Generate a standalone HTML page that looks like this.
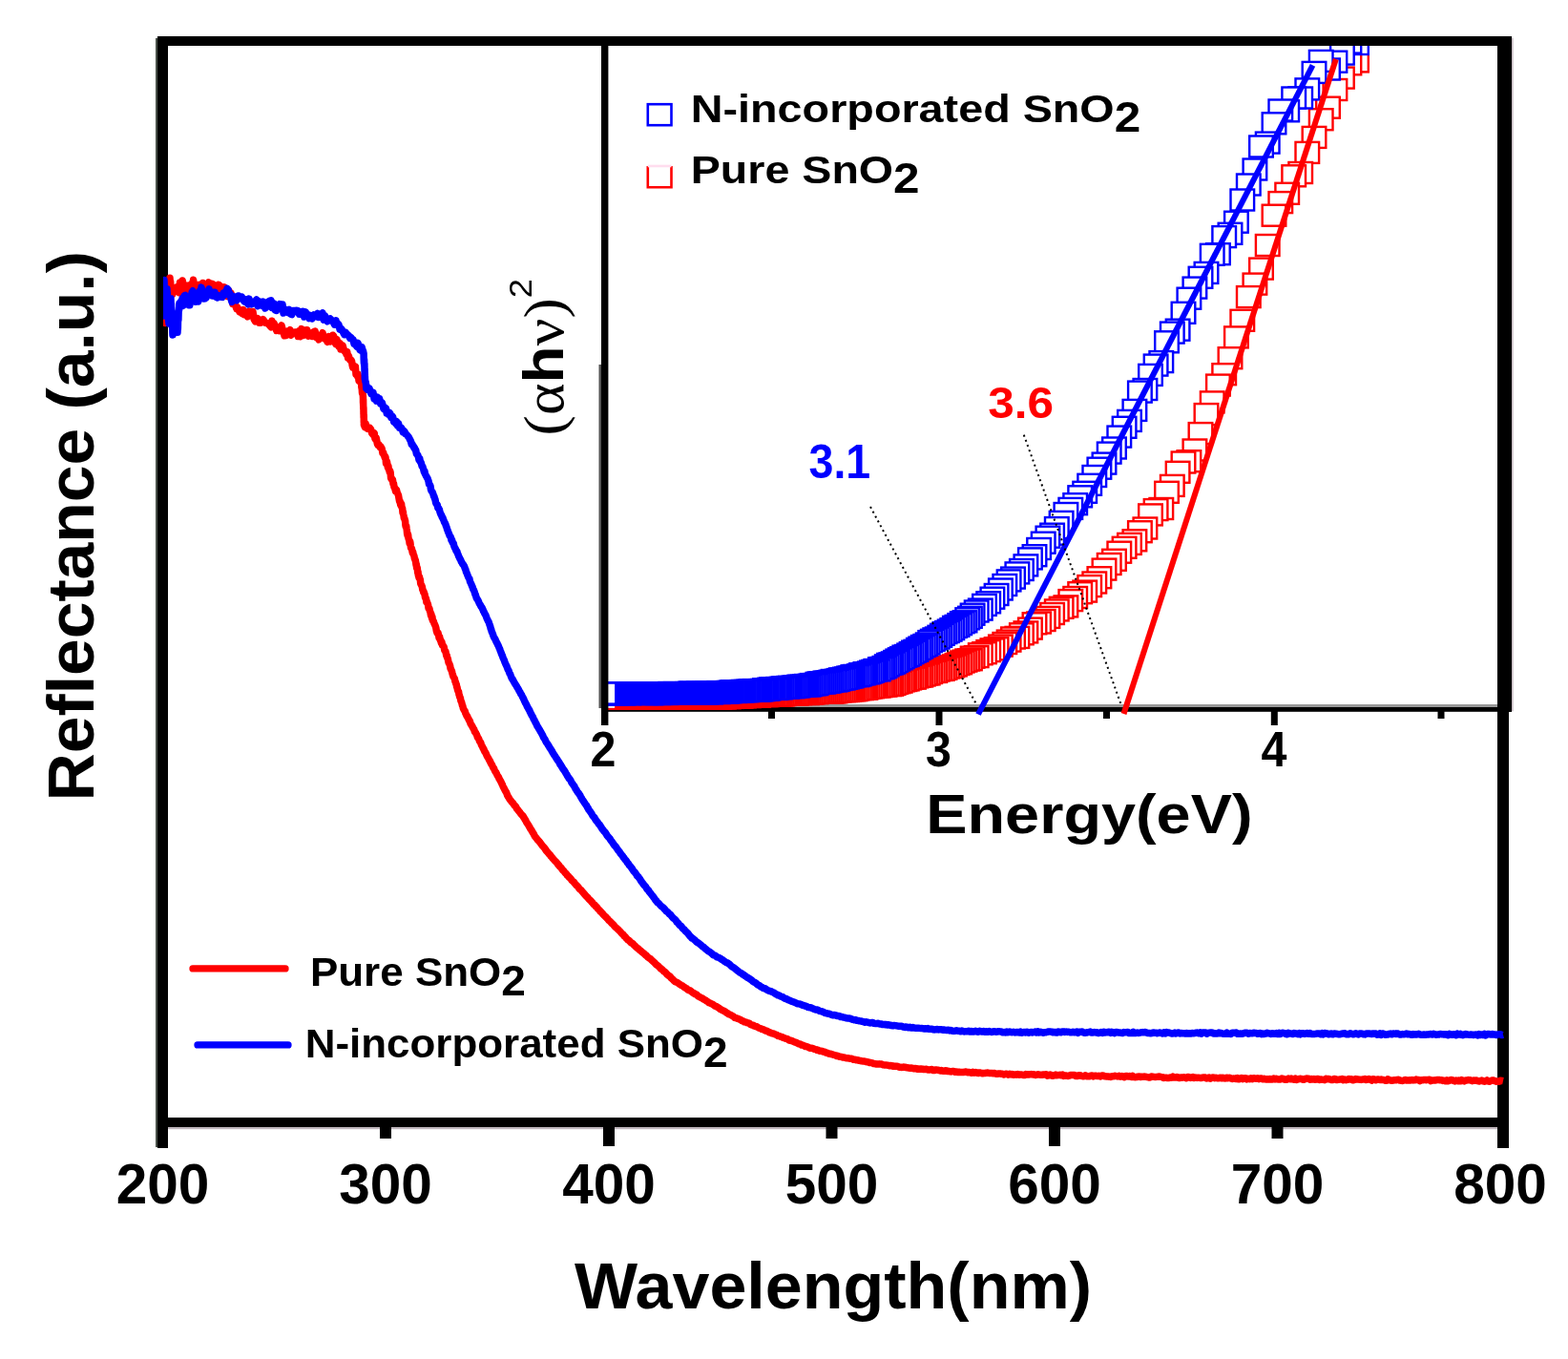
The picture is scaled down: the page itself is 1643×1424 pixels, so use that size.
<!DOCTYPE html>
<html><head><meta charset="utf-8"><title>Reflectance</title>
<style>html,body{margin:0;padding:0;background:#fff;}svg{display:block;}</style>
</head><body>
<svg width="1643" height="1424" viewBox="0 0 1643 1424">
<defs><clipPath id="ic"><rect x="637" y="48" width="932" height="696"/></clipPath><clipPath id="mc"><rect x="171" y="48" width="1405" height="1123"/></clipPath></defs>
<rect width="1643" height="1424" fill="#fff"/>
<rect x="637" y="48" width="935" height="692" fill="#fff"/>
<rect x="630" y="741" width="954" height="4.8" fill="#000"/>
<rect x="637" y="738" width="932" height="3" fill="#999"/>
<g fill="#fff" stroke="#f00" stroke-width="2.4" clip-path="url(#ic)"><rect x="1409.2" y="53.4" width="24.6" height="22"/><rect x="1401.6" y="56.3" width="24.6" height="22"/><rect x="1394.1" y="70.6" width="24.6" height="22"/><rect x="1386.6" y="83" width="24.6" height="22"/><rect x="1379.2" y="101.7" width="24.6" height="22"/><rect x="1371.9" y="114.2" width="24.6" height="22"/><rect x="1364.7" y="132.9" width="24.6" height="22"/><rect x="1357.5" y="148.9" width="24.6" height="22"/><rect x="1350.4" y="170" width="24.6" height="22"/><rect x="1343.4" y="173.3" width="24.6" height="22"/><rect x="1336.4" y="191.8" width="24.6" height="22"/><rect x="1329.5" y="201.1" width="24.6" height="22"/><rect x="1322.7" y="214.7" width="24.6" height="22"/><rect x="1315.9" y="246" width="24.6" height="22"/><rect x="1309.2" y="270.6" width="24.6" height="22"/><rect x="1302.6" y="286.6" width="24.6" height="22"/><rect x="1296" y="300.1" width="24.6" height="22"/><rect x="1289.5" y="324.8" width="24.6" height="22"/><rect x="1283.1" y="342.4" width="24.6" height="22"/><rect x="1276.7" y="364.2" width="24.6" height="22"/><rect x="1270.4" y="381.2" width="24.6" height="22"/><rect x="1264.1" y="392.6" width="24.6" height="22"/><rect x="1257.9" y="410.4" width="24.6" height="22"/><rect x="1251.7" y="423.1" width="24.6" height="22"/><rect x="1245.7" y="443.1" width="24.6" height="22"/><rect x="1239.6" y="460.5" width="24.6" height="22"/><rect x="1233.6" y="472.2" width="24.6" height="22"/><rect x="1227.7" y="473.5" width="24.6" height="22"/><rect x="1221.8" y="483.8" width="24.6" height="22"/><rect x="1216" y="497.9" width="24.6" height="22"/><rect x="1210.2" y="504.8" width="24.6" height="22"/><rect x="1204.5" y="522" width="24.6" height="22"/><rect x="1198.8" y="523.1" width="24.6" height="22"/><rect x="1193.2" y="528.4" width="24.6" height="22"/><rect x="1187.6" y="542.5" width="24.6" height="22"/><rect x="1182.1" y="546.2" width="24.6" height="22"/><rect x="1176.6" y="555.3" width="24.6" height="22"/><rect x="1171.2" y="558.9" width="24.6" height="22"/><rect x="1165.8" y="562.8" width="24.6" height="22"/><rect x="1160.5" y="567.7" width="24.6" height="22"/><rect x="1155.2" y="575.8" width="24.6" height="22"/><rect x="1149.9" y="580" width="24.6" height="22"/><rect x="1144.7" y="585.6" width="24.6" height="22"/><rect x="1139.6" y="594.2" width="24.6" height="22"/><rect x="1134.5" y="599.5" width="24.6" height="22"/><rect x="1129.4" y="603.1" width="24.6" height="22"/><rect x="1124.4" y="608.6" width="24.6" height="22"/><rect x="1119.4" y="610.2" width="24.6" height="22"/><rect x="1114.4" y="615" width="24.6" height="22"/><rect x="1109.5" y="618.1" width="24.6" height="22"/><rect x="1104.6" y="624.4" width="24.6" height="22"/><rect x="1099.8" y="625.8" width="24.6" height="22"/><rect x="1095" y="628.4" width="24.6" height="22"/><rect x="1090.3" y="632" width="24.6" height="22"/><rect x="1085.6" y="635.9" width="24.6" height="22"/><rect x="1080.9" y="639" width="24.6" height="22"/><rect x="1076.3" y="641.5" width="24.6" height="22"/><rect x="1071.7" y="642.3" width="24.6" height="22"/><rect x="1067.1" y="647.6" width="24.6" height="22"/><rect x="1062.6" y="651.4" width="24.6" height="22"/><rect x="1058.1" y="653.3" width="24.6" height="22"/><rect x="1053.6" y="656.9" width="24.6" height="22"/><rect x="1049.2" y="657.5" width="24.6" height="22"/><rect x="1044.8" y="660.6" width="24.6" height="22"/><rect x="1040.5" y="663" width="24.6" height="22"/><rect x="1036.1" y="665.6" width="24.6" height="22"/><rect x="1031.8" y="668.2" width="24.6" height="22"/><rect x="1027.6" y="669.4" width="24.6" height="22"/><rect x="1023.4" y="671.1" width="24.6" height="22"/><rect x="1019.2" y="673.2" width="24.6" height="22"/><rect x="1015" y="674.3" width="24.6" height="22"/><rect x="1010.9" y="677.1" width="24.6" height="22"/><rect x="1006.8" y="677.7" width="24.6" height="22"/><rect x="1004.1" y="680.2" width="24.6" height="22"/><rect x="1001.4" y="680.5" width="24.6" height="22"/><rect x="998.7" y="681.6" width="24.6" height="22"/><rect x="996" y="682.5" width="24.6" height="22"/><rect x="993.4" y="684.2" width="24.6" height="22"/><rect x="990.7" y="685" width="24.6" height="22"/><rect x="988.1" y="686.4" width="24.6" height="22"/><rect x="985.5" y="687.3" width="24.6" height="22"/><rect x="982.9" y="688.1" width="24.6" height="22"/><rect x="980.3" y="688.4" width="24.6" height="22"/><rect x="977.7" y="689.8" width="24.6" height="22"/><rect x="975.1" y="690.8" width="24.6" height="22"/><rect x="972.5" y="691" width="24.6" height="22"/><rect x="970" y="691.5" width="24.6" height="22"/><rect x="967.5" y="692.9" width="24.6" height="22"/><rect x="965" y="692.9" width="24.6" height="22"/><rect x="962.4" y="694" width="24.6" height="22"/><rect x="959.9" y="695.4" width="24.6" height="22"/><rect x="957.5" y="695.4" width="24.6" height="22"/><rect x="955" y="696.5" width="24.6" height="22"/><rect x="952.5" y="697.5" width="24.6" height="22"/><rect x="950.1" y="697.8" width="24.6" height="22"/><rect x="947.6" y="698.4" width="24.6" height="22"/><rect x="945.2" y="699.6" width="24.6" height="22"/><rect x="942.8" y="699.6" width="24.6" height="22"/><rect x="940.4" y="700.4" width="24.6" height="22"/><rect x="938" y="701.4" width="24.6" height="22"/><rect x="935.6" y="702" width="24.6" height="22"/><rect x="933.2" y="702.3" width="24.6" height="22"/><rect x="930.9" y="703.6" width="24.6" height="22"/><rect x="928.5" y="704.2" width="24.6" height="22"/><rect x="926.2" y="704.8" width="24.6" height="22"/><rect x="923.9" y="705.8" width="24.6" height="22"/><rect x="921.6" y="706.7" width="24.6" height="22"/><rect x="919.3" y="707.1" width="24.6" height="22"/><rect x="917" y="706.8" width="24.6" height="22"/><rect x="914.7" y="707.6" width="24.6" height="22"/><rect x="912.4" y="707.6" width="24.6" height="22"/><rect x="910.1" y="708.1" width="24.6" height="22"/><rect x="907.9" y="708.5" width="24.6" height="22"/><rect x="905.6" y="708.5" width="24.6" height="22"/><rect x="903.4" y="708.9" width="24.6" height="22"/><rect x="901.2" y="709.2" width="24.6" height="22"/><rect x="899" y="709.4" width="24.6" height="22"/><rect x="896.8" y="709.9" width="24.6" height="22"/><rect x="894.6" y="710.7" width="24.6" height="22"/><rect x="892.4" y="710.4" width="24.6" height="22"/><rect x="890.2" y="711.1" width="24.6" height="22"/><rect x="888.1" y="711" width="24.6" height="22"/><rect x="885.9" y="711.3" width="24.6" height="22"/><rect x="883.8" y="712.1" width="24.6" height="22"/><rect x="881.6" y="712.2" width="24.6" height="22"/><rect x="879.5" y="712.2" width="24.6" height="22"/><rect x="877.4" y="712.8" width="24.6" height="22"/><rect x="875.3" y="713" width="24.6" height="22"/><rect x="873.2" y="713" width="24.6" height="22"/><rect x="871.1" y="713.1" width="24.6" height="22"/><rect x="869" y="713" width="24.6" height="22"/><rect x="866.9" y="713.3" width="24.6" height="22"/><rect x="864.9" y="713.3" width="24.6" height="22"/><rect x="862.8" y="714.2" width="24.6" height="22"/><rect x="860.8" y="714.3" width="24.6" height="22"/><rect x="858.7" y="714.5" width="24.6" height="22"/><rect x="856.7" y="714.2" width="24.6" height="22"/><rect x="854.7" y="714.4" width="24.6" height="22"/><rect x="852.7" y="714.1" width="24.6" height="22"/><rect x="850.7" y="714.3" width="24.6" height="22"/><rect x="848.7" y="714.3" width="24.6" height="22"/><rect x="846.7" y="714.5" width="24.6" height="22"/><rect x="844.7" y="714.7" width="24.6" height="22"/><rect x="842.8" y="715.2" width="24.6" height="22"/><rect x="840.8" y="714.8" width="24.6" height="22"/><rect x="838.9" y="715.3" width="24.6" height="22"/><rect x="836.9" y="715.6" width="24.6" height="22"/><rect x="835" y="715.3" width="24.6" height="22"/><rect x="833.1" y="716.1" width="24.6" height="22"/><rect x="831.2" y="715.4" width="24.6" height="22"/><rect x="829.2" y="715.9" width="24.6" height="22"/><rect x="827.3" y="715.8" width="24.6" height="22"/><rect x="825.5" y="716.1" width="24.6" height="22"/><rect x="823.6" y="715.8" width="24.6" height="22"/><rect x="821.7" y="716.6" width="24.6" height="22"/><rect x="819.8" y="716.3" width="24.6" height="22"/><rect x="818" y="716" width="24.6" height="22"/><rect x="816.1" y="716.3" width="24.6" height="22"/><rect x="814.3" y="716.8" width="24.6" height="22"/><rect x="812.4" y="716.4" width="24.6" height="22"/><rect x="810.6" y="716.8" width="24.6" height="22"/><rect x="808.8" y="717.1" width="24.6" height="22"/><rect x="806.9" y="717.4" width="24.6" height="22"/><rect x="805.1" y="717.4" width="24.6" height="22"/><rect x="803.3" y="717.6" width="24.6" height="22"/><rect x="801.5" y="717.5" width="24.6" height="22"/><rect x="799.8" y="717.6" width="24.6" height="22"/><rect x="798" y="717.4" width="24.6" height="22"/><rect x="796.2" y="717.1" width="24.6" height="22"/><rect x="794.4" y="717.5" width="24.6" height="22"/><rect x="792.7" y="717.4" width="24.6" height="22"/><rect x="790.9" y="718.1" width="24.6" height="22"/><rect x="789.2" y="718" width="24.6" height="22"/><rect x="787.4" y="717.9" width="24.6" height="22"/><rect x="785.7" y="717.6" width="24.6" height="22"/><rect x="784" y="717.8" width="24.6" height="22"/><rect x="782.3" y="718.8" width="24.6" height="22"/><rect x="780.6" y="717.9" width="24.6" height="22"/><rect x="778.9" y="718.3" width="24.6" height="22"/><rect x="777.2" y="718.7" width="24.6" height="22"/><rect x="775.5" y="718.3" width="24.6" height="22"/><rect x="773.8" y="718.4" width="24.6" height="22"/><rect x="772.1" y="719.1" width="24.6" height="22"/><rect x="770.4" y="718.6" width="24.6" height="22"/><rect x="768.8" y="718.5" width="24.6" height="22"/><rect x="767.1" y="719.3" width="24.6" height="22"/><rect x="765.5" y="718.6" width="24.6" height="22"/><rect x="763.8" y="719.6" width="24.6" height="22"/><rect x="762.2" y="718.9" width="24.6" height="22"/><rect x="760.6" y="719.5" width="24.6" height="22"/><rect x="758.9" y="719.1" width="24.6" height="22"/><rect x="757.3" y="719.4" width="24.6" height="22"/><rect x="755.7" y="719.1" width="24.6" height="22"/><rect x="754.1" y="719.9" width="24.6" height="22"/><rect x="752.5" y="719.7" width="24.6" height="22"/><rect x="750.9" y="720.2" width="24.6" height="22"/><rect x="749.3" y="719.6" width="24.6" height="22"/><rect x="747.7" y="719.7" width="24.6" height="22"/><rect x="746.2" y="720.4" width="24.6" height="22"/><rect x="744.6" y="720.2" width="24.6" height="22"/><rect x="743" y="719.8" width="24.6" height="22"/><rect x="741.5" y="720.7" width="24.6" height="22"/><rect x="739.9" y="720.1" width="24.6" height="22"/><rect x="738.4" y="720.2" width="24.6" height="22"/><rect x="736.8" y="720.7" width="24.6" height="22"/><rect x="735.3" y="720.1" width="24.6" height="22"/><rect x="733.8" y="720.7" width="24.6" height="22"/><rect x="732.2" y="720.2" width="24.6" height="22"/><rect x="730.7" y="720.9" width="24.6" height="22"/><rect x="729.2" y="720.7" width="24.6" height="22"/><rect x="727.7" y="720.8" width="24.6" height="22"/><rect x="726.2" y="720.1" width="24.6" height="22"/><rect x="724.7" y="720.6" width="24.6" height="22"/><rect x="723.2" y="720.9" width="24.6" height="22"/><rect x="721.7" y="720.5" width="24.6" height="22"/><rect x="720.2" y="720.2" width="24.6" height="22"/><rect x="718.8" y="720.3" width="24.6" height="22"/><rect x="717.3" y="720.6" width="24.6" height="22"/><rect x="715.8" y="720.7" width="24.6" height="22"/><rect x="714.4" y="720.5" width="24.6" height="22"/><rect x="712.9" y="720.5" width="24.6" height="22"/><rect x="711.5" y="720.7" width="24.6" height="22"/><rect x="710" y="721" width="24.6" height="22"/><rect x="708.6" y="720.3" width="24.6" height="22"/><rect x="707.2" y="720.9" width="24.6" height="22"/><rect x="705.8" y="720.3" width="24.6" height="22"/><rect x="704.3" y="720.9" width="24.6" height="22"/><rect x="702.9" y="720.2" width="24.6" height="22"/><rect x="701.5" y="720.7" width="24.6" height="22"/><rect x="700.1" y="720.3" width="24.6" height="22"/><rect x="698.7" y="720.2" width="24.6" height="22"/><rect x="697.3" y="720.5" width="24.6" height="22"/><rect x="695.9" y="720.7" width="24.6" height="22"/><rect x="694.5" y="720.9" width="24.6" height="22"/><rect x="693.1" y="720.6" width="24.6" height="22"/><rect x="691.8" y="720.5" width="24.6" height="22"/><rect x="690.4" y="720.9" width="24.6" height="22"/><rect x="689" y="720.9" width="24.6" height="22"/><rect x="687.7" y="720.4" width="24.6" height="22"/><rect x="686.3" y="720.8" width="24.6" height="22"/><rect x="685" y="720.5" width="24.6" height="22"/><rect x="683.6" y="720.9" width="24.6" height="22"/><rect x="682.3" y="720.5" width="24.6" height="22"/><rect x="680.9" y="720.5" width="24.6" height="22"/><rect x="679.6" y="720.5" width="24.6" height="22"/><rect x="678.3" y="720.7" width="24.6" height="22"/><rect x="677" y="720.8" width="24.6" height="22"/><rect x="675.6" y="720.2" width="24.6" height="22"/><rect x="674.3" y="721" width="24.6" height="22"/><rect x="673" y="721" width="24.6" height="22"/><rect x="671.7" y="720.4" width="24.6" height="22"/><rect x="670.4" y="720.8" width="24.6" height="22"/><rect x="669.1" y="720.8" width="24.6" height="22"/><rect x="667.8" y="720.9" width="24.6" height="22"/><rect x="666.5" y="720.7" width="24.6" height="22"/><rect x="665.3" y="720.8" width="24.6" height="22"/><rect x="664" y="720.9" width="24.6" height="22"/><rect x="662.7" y="720.2" width="24.6" height="22"/><rect x="661.4" y="720.7" width="24.6" height="22"/><rect x="660.2" y="721" width="24.6" height="22"/><rect x="658.9" y="720.5" width="24.6" height="22"/><rect x="657.6" y="720.1" width="24.6" height="22"/><rect x="656.4" y="720.3" width="24.6" height="22"/><rect x="655.1" y="720" width="24.6" height="22"/><rect x="653.9" y="720.2" width="24.6" height="22"/><rect x="652.7" y="720.6" width="24.6" height="22"/><rect x="651.4" y="720.5" width="24.6" height="22"/><rect x="650.2" y="720.9" width="24.6" height="22"/><rect x="649" y="720.4" width="24.6" height="22"/><rect x="647.7" y="720.3" width="24.6" height="22"/><rect x="646.5" y="720.5" width="24.6" height="22"/><rect x="645.3" y="720" width="24.6" height="22"/><rect x="644.1" y="720" width="24.6" height="22"/><rect x="642.9" y="720.3" width="24.6" height="22"/><rect x="641.7" y="720.4" width="24.6" height="22"/><rect x="640.5" y="720.5" width="24.6" height="22"/><rect x="639.3" y="720.9" width="24.6" height="22"/><rect x="638.1" y="721" width="24.6" height="22"/><rect x="636.9" y="720.7" width="24.6" height="22"/><rect x="635.7" y="720.4" width="24.6" height="22"/><rect x="634.6" y="720.4" width="24.6" height="22"/><rect x="633.4" y="720.2" width="24.6" height="22"/><rect x="632.2" y="720.6" width="24.6" height="22"/><rect x="631" y="720.6" width="24.6" height="22"/><rect x="629.9" y="720.6" width="24.6" height="22"/><rect x="628.7" y="720.3" width="24.6" height="22"/><rect x="627.6" y="720.7" width="24.6" height="22"/><rect x="626.4" y="720.7" width="24.6" height="22"/><rect x="625.3" y="720.8" width="24.6" height="22"/><rect x="624.1" y="720.1" width="24.6" height="22"/><rect x="623" y="720.1" width="24.6" height="22"/><rect x="621.8" y="720.9" width="24.6" height="22"/><rect x="620.7" y="721" width="24.6" height="22"/></g>
<g fill="#fff" stroke="#00f" stroke-width="2.4" clip-path="url(#ic)"><rect x="1409.2" y="35" width="24.6" height="22"/><rect x="1401.6" y="33.6" width="24.6" height="22"/><rect x="1394.1" y="45.6" width="24.6" height="22"/><rect x="1386.6" y="53.7" width="24.6" height="22"/><rect x="1379.2" y="61.5" width="24.6" height="22"/><rect x="1371.9" y="52.9" width="24.6" height="22"/><rect x="1364.7" y="64.9" width="24.6" height="22"/><rect x="1357.5" y="82.4" width="24.6" height="22"/><rect x="1350.4" y="91.5" width="24.6" height="22"/><rect x="1343.4" y="91.5" width="24.6" height="22"/><rect x="1336.4" y="105.3" width="24.6" height="22"/><rect x="1329.5" y="104.5" width="24.6" height="22"/><rect x="1322.7" y="118.3" width="24.6" height="22"/><rect x="1315.9" y="138.6" width="24.6" height="22"/><rect x="1309.2" y="142.5" width="24.6" height="22"/><rect x="1302.6" y="166.5" width="24.6" height="22"/><rect x="1296" y="182.5" width="24.6" height="22"/><rect x="1289.5" y="198.5" width="24.6" height="22"/><rect x="1283.1" y="221.7" width="24.6" height="22"/><rect x="1276.7" y="233.8" width="24.6" height="22"/><rect x="1270.4" y="237.1" width="24.6" height="22"/><rect x="1264.1" y="255.2" width="24.6" height="22"/><rect x="1257.9" y="255.8" width="24.6" height="22"/><rect x="1251.7" y="274.9" width="24.6" height="22"/><rect x="1245.7" y="279.8" width="24.6" height="22"/><rect x="1239.6" y="290.6" width="24.6" height="22"/><rect x="1233.6" y="301.7" width="24.6" height="22"/><rect x="1227.7" y="316.8" width="24.6" height="22"/><rect x="1221.8" y="334.7" width="24.6" height="22"/><rect x="1216" y="337.6" width="24.6" height="22"/><rect x="1210.2" y="347.3" width="24.6" height="22"/><rect x="1204.5" y="368.1" width="24.6" height="22"/><rect x="1198.8" y="371.6" width="24.6" height="22"/><rect x="1193.2" y="381.9" width="24.6" height="22"/><rect x="1187.6" y="397" width="24.6" height="22"/><rect x="1182.1" y="399.6" width="24.6" height="22"/><rect x="1176.6" y="418.9" width="24.6" height="22"/><rect x="1171.2" y="429.9" width="24.6" height="22"/><rect x="1165.8" y="436.8" width="24.6" height="22"/><rect x="1160.5" y="446.6" width="24.6" height="22"/><rect x="1155.2" y="458.5" width="24.6" height="22"/><rect x="1149.9" y="463.6" width="24.6" height="22"/><rect x="1144.7" y="474.6" width="24.6" height="22"/><rect x="1139.6" y="479.7" width="24.6" height="22"/><rect x="1134.5" y="488" width="24.6" height="22"/><rect x="1129.4" y="496.8" width="24.6" height="22"/><rect x="1124.4" y="504.8" width="24.6" height="22"/><rect x="1119.4" y="509.3" width="24.6" height="22"/><rect x="1114.4" y="517.2" width="24.6" height="22"/><rect x="1109.5" y="521.9" width="24.6" height="22"/><rect x="1104.6" y="527" width="24.6" height="22"/><rect x="1099.8" y="535.9" width="24.6" height="22"/><rect x="1095" y="542.1" width="24.6" height="22"/><rect x="1090.3" y="548.7" width="24.6" height="22"/><rect x="1085.6" y="551.7" width="24.6" height="22"/><rect x="1080.9" y="557.7" width="24.6" height="22"/><rect x="1076.3" y="564" width="24.6" height="22"/><rect x="1071.7" y="571.2" width="24.6" height="22"/><rect x="1067.1" y="574.4" width="24.6" height="22"/><rect x="1062.6" y="581.4" width="24.6" height="22"/><rect x="1058.1" y="586" width="24.6" height="22"/><rect x="1053.6" y="589.4" width="24.6" height="22"/><rect x="1049.2" y="594.6" width="24.6" height="22"/><rect x="1044.8" y="597.4" width="24.6" height="22"/><rect x="1040.5" y="602" width="24.6" height="22"/><rect x="1036.1" y="606.5" width="24.6" height="22"/><rect x="1031.8" y="612" width="24.6" height="22"/><rect x="1027.6" y="615.7" width="24.6" height="22"/><rect x="1023.4" y="620.3" width="24.6" height="22"/><rect x="1019.2" y="622.9" width="24.6" height="22"/><rect x="1015" y="627.6" width="24.6" height="22"/><rect x="1010.9" y="629.5" width="24.6" height="22"/><rect x="1006.8" y="632.7" width="24.6" height="22"/><rect x="1004.1" y="635.8" width="24.6" height="22"/><rect x="1001.4" y="637.3" width="24.6" height="22"/><rect x="998.7" y="640.3" width="24.6" height="22"/><rect x="996" y="641.2" width="24.6" height="22"/><rect x="993.4" y="643.1" width="24.6" height="22"/><rect x="990.7" y="644.9" width="24.6" height="22"/><rect x="988.1" y="645.9" width="24.6" height="22"/><rect x="985.5" y="648.1" width="24.6" height="22"/><rect x="982.9" y="649.6" width="24.6" height="22"/><rect x="980.3" y="651" width="24.6" height="22"/><rect x="977.7" y="652.1" width="24.6" height="22"/><rect x="975.1" y="653.8" width="24.6" height="22"/><rect x="972.5" y="655.8" width="24.6" height="22"/><rect x="970" y="657.5" width="24.6" height="22"/><rect x="967.5" y="658.4" width="24.6" height="22"/><rect x="965" y="659.8" width="24.6" height="22"/><rect x="962.4" y="661.1" width="24.6" height="22"/><rect x="959.9" y="663.5" width="24.6" height="22"/><rect x="957.5" y="665" width="24.6" height="22"/><rect x="955" y="666" width="24.6" height="22"/><rect x="952.5" y="667.6" width="24.6" height="22"/><rect x="950.1" y="668.9" width="24.6" height="22"/><rect x="947.6" y="670.8" width="24.6" height="22"/><rect x="945.2" y="671.7" width="24.6" height="22"/><rect x="942.8" y="673.1" width="24.6" height="22"/><rect x="940.4" y="674.6" width="24.6" height="22"/><rect x="938" y="676" width="24.6" height="22"/><rect x="935.6" y="676.7" width="24.6" height="22"/><rect x="933.2" y="678.1" width="24.6" height="22"/><rect x="930.9" y="679.3" width="24.6" height="22"/><rect x="928.5" y="680.6" width="24.6" height="22"/><rect x="926.2" y="682" width="24.6" height="22"/><rect x="923.9" y="683.4" width="24.6" height="22"/><rect x="921.6" y="684.4" width="24.6" height="22"/><rect x="919.3" y="684.9" width="24.6" height="22"/><rect x="917" y="686.4" width="24.6" height="22"/><rect x="914.7" y="688" width="24.6" height="22"/><rect x="912.4" y="689" width="24.6" height="22"/><rect x="910.1" y="689.3" width="24.6" height="22"/><rect x="907.9" y="691.3" width="24.6" height="22"/><rect x="905.6" y="691" width="24.6" height="22"/><rect x="903.4" y="691.9" width="24.6" height="22"/><rect x="901.2" y="692.6" width="24.6" height="22"/><rect x="899" y="693.5" width="24.6" height="22"/><rect x="896.8" y="694.3" width="24.6" height="22"/><rect x="894.6" y="694.2" width="24.6" height="22"/><rect x="892.4" y="695.3" width="24.6" height="22"/><rect x="890.2" y="695.3" width="24.6" height="22"/><rect x="888.1" y="696.4" width="24.6" height="22"/><rect x="885.9" y="697.1" width="24.6" height="22"/><rect x="883.8" y="697" width="24.6" height="22"/><rect x="881.6" y="697.3" width="24.6" height="22"/><rect x="879.5" y="698.4" width="24.6" height="22"/><rect x="877.4" y="698.6" width="24.6" height="22"/><rect x="875.3" y="699.4" width="24.6" height="22"/><rect x="873.2" y="699.7" width="24.6" height="22"/><rect x="871.1" y="700.4" width="24.6" height="22"/><rect x="869" y="700.4" width="24.6" height="22"/><rect x="866.9" y="701.1" width="24.6" height="22"/><rect x="864.9" y="701.8" width="24.6" height="22"/><rect x="862.8" y="702.4" width="24.6" height="22"/><rect x="860.8" y="702" width="24.6" height="22"/><rect x="858.7" y="702.7" width="24.6" height="22"/><rect x="856.7" y="703.3" width="24.6" height="22"/><rect x="854.7" y="703.7" width="24.6" height="22"/><rect x="852.7" y="703.6" width="24.6" height="22"/><rect x="850.7" y="704.5" width="24.6" height="22"/><rect x="848.7" y="704.3" width="24.6" height="22"/><rect x="846.7" y="704.5" width="24.6" height="22"/><rect x="844.7" y="704.9" width="24.6" height="22"/><rect x="842.8" y="706" width="24.6" height="22"/><rect x="840.8" y="706.2" width="24.6" height="22"/><rect x="838.9" y="706.1" width="24.6" height="22"/><rect x="836.9" y="706.8" width="24.6" height="22"/><rect x="835" y="707.5" width="24.6" height="22"/><rect x="833.1" y="707" width="24.6" height="22"/><rect x="831.2" y="707.3" width="24.6" height="22"/><rect x="829.2" y="707.8" width="24.6" height="22"/><rect x="827.3" y="707.9" width="24.6" height="22"/><rect x="825.5" y="707.7" width="24.6" height="22"/><rect x="823.6" y="708.4" width="24.6" height="22"/><rect x="821.7" y="708.4" width="24.6" height="22"/><rect x="819.8" y="708.7" width="24.6" height="22"/><rect x="818" y="709.2" width="24.6" height="22"/><rect x="816.1" y="708.9" width="24.6" height="22"/><rect x="814.3" y="709" width="24.6" height="22"/><rect x="812.4" y="709.6" width="24.6" height="22"/><rect x="810.6" y="709.4" width="24.6" height="22"/><rect x="808.8" y="709.5" width="24.6" height="22"/><rect x="806.9" y="709.9" width="24.6" height="22"/><rect x="805.1" y="710.3" width="24.6" height="22"/><rect x="803.3" y="710" width="24.6" height="22"/><rect x="801.5" y="710.3" width="24.6" height="22"/><rect x="799.8" y="710.9" width="24.6" height="22"/><rect x="798" y="710.3" width="24.6" height="22"/><rect x="796.2" y="710.5" width="24.6" height="22"/><rect x="794.4" y="710.7" width="24.6" height="22"/><rect x="792.7" y="711.4" width="24.6" height="22"/><rect x="790.9" y="711.7" width="24.6" height="22"/><rect x="789.2" y="711.3" width="24.6" height="22"/><rect x="787.4" y="712" width="24.6" height="22"/><rect x="785.7" y="712.1" width="24.6" height="22"/><rect x="784" y="712.3" width="24.6" height="22"/><rect x="782.3" y="712.5" width="24.6" height="22"/><rect x="780.6" y="712.3" width="24.6" height="22"/><rect x="778.9" y="712.1" width="24.6" height="22"/><rect x="777.2" y="712.3" width="24.6" height="22"/><rect x="775.5" y="712.2" width="24.6" height="22"/><rect x="773.8" y="712.7" width="24.6" height="22"/><rect x="772.1" y="712.9" width="24.6" height="22"/><rect x="770.4" y="713" width="24.6" height="22"/><rect x="768.8" y="713.1" width="24.6" height="22"/><rect x="767.1" y="713" width="24.6" height="22"/><rect x="765.5" y="713.1" width="24.6" height="22"/><rect x="763.8" y="713.3" width="24.6" height="22"/><rect x="762.2" y="713.4" width="24.6" height="22"/><rect x="760.6" y="713.2" width="24.6" height="22"/><rect x="758.9" y="713.6" width="24.6" height="22"/><rect x="757.3" y="714" width="24.6" height="22"/><rect x="755.7" y="713.3" width="24.6" height="22"/><rect x="754.1" y="713.8" width="24.6" height="22"/><rect x="752.5" y="714" width="24.6" height="22"/><rect x="750.9" y="714.1" width="24.6" height="22"/><rect x="749.3" y="714.4" width="24.6" height="22"/><rect x="747.7" y="714.5" width="24.6" height="22"/><rect x="746.2" y="714.7" width="24.6" height="22"/><rect x="744.6" y="714.7" width="24.6" height="22"/><rect x="743" y="714.8" width="24.6" height="22"/><rect x="741.5" y="714.1" width="24.6" height="22"/><rect x="739.9" y="715.1" width="24.6" height="22"/><rect x="738.4" y="714.8" width="24.6" height="22"/><rect x="736.8" y="714.6" width="24.6" height="22"/><rect x="735.3" y="714.8" width="24.6" height="22"/><rect x="733.8" y="714.9" width="24.6" height="22"/><rect x="732.2" y="715.3" width="24.6" height="22"/><rect x="730.7" y="714.9" width="24.6" height="22"/><rect x="729.2" y="714.7" width="24.6" height="22"/><rect x="727.7" y="715.3" width="24.6" height="22"/><rect x="726.2" y="715" width="24.6" height="22"/><rect x="724.7" y="715.3" width="24.6" height="22"/><rect x="723.2" y="715.5" width="24.6" height="22"/><rect x="721.7" y="715" width="24.6" height="22"/><rect x="720.2" y="714.7" width="24.6" height="22"/><rect x="718.8" y="715" width="24.6" height="22"/><rect x="717.3" y="715.2" width="24.6" height="22"/><rect x="715.8" y="715.6" width="24.6" height="22"/><rect x="714.4" y="715.3" width="24.6" height="22"/><rect x="712.9" y="714.7" width="24.6" height="22"/><rect x="711.5" y="714.7" width="24.6" height="22"/><rect x="710" y="715.2" width="24.6" height="22"/><rect x="708.6" y="715.1" width="24.6" height="22"/><rect x="707.2" y="715.2" width="24.6" height="22"/><rect x="705.8" y="715.5" width="24.6" height="22"/><rect x="704.3" y="715.3" width="24.6" height="22"/><rect x="702.9" y="715.2" width="24.6" height="22"/><rect x="701.5" y="715.2" width="24.6" height="22"/><rect x="700.1" y="715.5" width="24.6" height="22"/><rect x="698.7" y="715.5" width="24.6" height="22"/><rect x="697.3" y="715.4" width="24.6" height="22"/><rect x="695.9" y="715.1" width="24.6" height="22"/><rect x="694.5" y="715.3" width="24.6" height="22"/><rect x="693.1" y="715.7" width="24.6" height="22"/><rect x="691.8" y="715.2" width="24.6" height="22"/><rect x="690.4" y="715" width="24.6" height="22"/><rect x="689" y="715.6" width="24.6" height="22"/><rect x="687.7" y="715.5" width="24.6" height="22"/><rect x="686.3" y="715.9" width="24.6" height="22"/><rect x="685" y="715.9" width="24.6" height="22"/><rect x="683.6" y="715.6" width="24.6" height="22"/><rect x="682.3" y="715.3" width="24.6" height="22"/><rect x="680.9" y="715.7" width="24.6" height="22"/><rect x="679.6" y="715.9" width="24.6" height="22"/><rect x="678.3" y="715.5" width="24.6" height="22"/><rect x="677" y="716" width="24.6" height="22"/><rect x="675.6" y="715.8" width="24.6" height="22"/><rect x="674.3" y="715.8" width="24.6" height="22"/><rect x="673" y="715.4" width="24.6" height="22"/><rect x="671.7" y="715.2" width="24.6" height="22"/><rect x="670.4" y="716" width="24.6" height="22"/><rect x="669.1" y="716.1" width="24.6" height="22"/><rect x="667.8" y="715.3" width="24.6" height="22"/><rect x="666.5" y="715.8" width="24.6" height="22"/><rect x="665.3" y="715.7" width="24.6" height="22"/><rect x="664" y="716" width="24.6" height="22"/><rect x="662.7" y="715.2" width="24.6" height="22"/><rect x="661.4" y="715.5" width="24.6" height="22"/><rect x="660.2" y="715.6" width="24.6" height="22"/><rect x="658.9" y="715.4" width="24.6" height="22"/><rect x="657.6" y="715.4" width="24.6" height="22"/><rect x="656.4" y="715.4" width="24.6" height="22"/><rect x="655.1" y="715.7" width="24.6" height="22"/><rect x="653.9" y="715.6" width="24.6" height="22"/><rect x="652.7" y="715.4" width="24.6" height="22"/><rect x="651.4" y="715.3" width="24.6" height="22"/><rect x="650.2" y="715.7" width="24.6" height="22"/><rect x="649" y="715.5" width="24.6" height="22"/><rect x="647.7" y="715.6" width="24.6" height="22"/><rect x="646.5" y="716.2" width="24.6" height="22"/><rect x="645.3" y="715.8" width="24.6" height="22"/><rect x="644.1" y="715.3" width="24.6" height="22"/><rect x="642.9" y="715.3" width="24.6" height="22"/><rect x="641.7" y="716.2" width="24.6" height="22"/><rect x="640.5" y="716.2" width="24.6" height="22"/><rect x="639.3" y="715.5" width="24.6" height="22"/><rect x="638.1" y="716" width="24.6" height="22"/><rect x="636.9" y="715.8" width="24.6" height="22"/><rect x="635.7" y="715.3" width="24.6" height="22"/><rect x="634.6" y="716.1" width="24.6" height="22"/><rect x="633.4" y="715.8" width="24.6" height="22"/><rect x="632.2" y="716.2" width="24.6" height="22"/><rect x="631" y="715.4" width="24.6" height="22"/><rect x="629.9" y="715.5" width="24.6" height="22"/><rect x="628.7" y="716.2" width="24.6" height="22"/><rect x="627.6" y="716" width="24.6" height="22"/><rect x="626.4" y="715.8" width="24.6" height="22"/><rect x="625.3" y="715.9" width="24.6" height="22"/><rect x="624.1" y="715.7" width="24.6" height="22"/><rect x="623" y="716.2" width="24.6" height="22"/><rect x="621.8" y="716.3" width="24.6" height="22"/><rect x="620.7" y="715.6" width="24.6" height="22"/></g>
<g stroke-width="6" stroke-linecap="butt">
<line x1="1025" y1="748.5" x2="1375.5" y2="68.3" stroke="#00f"/>
<line x1="1177.5" y1="748" x2="1399.8" y2="62" stroke="#f00"/>
</g>
<g stroke="#000" stroke-width="2" stroke-dasharray="2 3.5" fill="none">
<line x1="912" y1="531" x2="1023.6" y2="739"/>
<line x1="1072.8" y1="455.7" x2="1174.6" y2="738"/>
</g>
<rect x="163" y="40" width="2.2" height="1162" fill="#4b524b"/>
<rect x="1584" y="40" width="1.6" height="705" fill="#c9bcc4"/>
<rect x="176" y="1181" width="1393" height="2.2" fill="#bfb6bd"/>
<g fill="#000">
<rect x="165" y="38" width="1416" height="10"/>
<rect x="165" y="38" width="11" height="1165"/>
<rect x="165" y="1171" width="1416" height="10"/>
<rect x="1569" y="38" width="12" height="1165"/>
<rect x="398" y="1181" width="12" height="12"/>
<rect x="632" y="1181" width="12" height="20"/>
<rect x="865.5" y="1181" width="12" height="12"/>
<rect x="1099" y="1181" width="12" height="20"/>
<rect x="1332.5" y="1181" width="12" height="12"/>
<rect x="630" y="38" width="7.4" height="722"/>
<rect x="1569" y="38" width="15" height="708"/>
<rect x="805" y="745" width="7" height="8"/>
<rect x="980.5" y="745" width="7" height="15"/>
<rect x="1156" y="745" width="7" height="8"/>
<rect x="1331.8" y="745" width="7" height="15"/>
<rect x="1506.5" y="745" width="7" height="8"/>
</g>
<rect x="627.5" y="382" width="2.5" height="360" fill="#555"/>
<g fill="none" stroke-width="7.5" stroke-linejoin="round" stroke-linecap="butt" clip-path="url(#mc)">
<polyline stroke="#f00" points="172,304.8 172,301.7 172.1,299.8 172.1,307.6 172.2,304.6 172.2,304 172.2,304.6 172.3,313.1 172.3,314.9 172.4,314.4 172.4,314.1 172.4,316.5 172.5,314.3 172.5,323.8 172.6,318.5 172.6,323.1 172.6,326.5 172.7,327.9 172.7,325.6 172.8,325.1 172.8,329.3 172.8,326.1 172.9,335.3 172.9,331.5 173,338.4 173,333.5 173,333.2 173.1,330.4 173.1,330.9 173.2,326.8 173.2,323.4 173.2,329.8 173.3,323.5 173.3,321.7 173.4,320.9 173.4,321.4 173.4,319.4 173.5,320.2 173.5,319 173.6,314.3 173.6,319.1 173.6,316.8 173.7,306.7 173.7,313.7 173.8,313.1 173.8,310.3 173.8,301.8 173.9,307.9 173.9,304.3 174,296.1 174,294.7 174.1,306.4 174.3,304.6 174.4,301.6 174.6,301.4 174.7,303.2 174.9,305.7 175,313 175.1,309.8 175.3,309.1 175.4,318.7 175.6,318.9 175.7,313.5 175.9,322.8 176,321.2 176.1,321.7 176.2,319 176.4,320.1 176.5,317.5 176.6,316.6 176.7,308.2 176.8,312.2 176.9,309 177.1,309.9 177.2,305.2 177.3,308.6 177.4,303.7 177.5,299.1 177.6,297.3 177.8,294.9 177.9,297.3 178,291.2 178.3,297.1 178.6,295 178.9,300.2 179.1,301.7 179.4,303.6 179.7,308.5 180,300.6 180.8,308.2 181.5,302.7 182.2,302.2 183,301.8 184.3,304.7 185.7,300.7 187,302.1 187.8,306.7 188.5,295.9 189.2,300.7 190,299.5 191.2,294 192.5,301.2 193.8,302.9 195,306.6 196.3,299.2 197.6,305.1 198.9,299.1 200.2,297.8 201.5,301.2 202.6,293.3 203.8,301.8 204.9,302.1 206,300.3 207,304.8 208,298.6 209,298.7 210,298.3 211.2,301.6 212.5,296.5 213.8,299.6 215,300.2 216.2,300.6 217.5,302.4 218.8,295.9 220,300.4 221,297 222,299 223,297.7 224,301.1 225,306.9 226.3,302.9 227.7,303.6 229,298.3 230,299.1 231,300 232,303.9 233,305.4 234,307.9 235.3,300.9 236.7,308.2 238,310.4 239,308.3 240,304.7 241,308.6 242,307.1 243,310.1 244,318.6 245,316.7 246,318.4 247,320.8 247.8,323.4 248.6,321.9 249.4,323.3 250.2,324.8 251,326.9 252.2,326.7 253.5,328.2 254.8,324.5 256,329.6 257.7,328.3 259.3,331.8 261,326.2 263,327.5 265,326.7 266.2,334.6 267.5,336.8 268.8,335.4 270,333.8 271.5,338.3 273,338.3 274.5,336.6 275.6,334.8 276.8,336.2 277.9,338.3 279,338.4 280.7,339 282.3,340.6 284,342.8 285,336.3 286,342.1 287,338.7 288,340.7 289.7,346.4 291.3,344 293,346.6 294,343.5 295,340.9 296,345 297,347.8 298,351.7 300,351.5 302,346.8 303,347.3 304,345.7 305,351.2 306,348.6 307,349.1 309,348 311,347.9 312.2,352.5 313.5,346.9 314.8,352.8 316,344.6 318,351.5 320,346 321.7,345.7 323.3,352.1 325,348.9 327,352.4 329,347.5 330.2,347.1 331.5,353.7 332.8,354 334,355.8 336,354.3 338,348.7 339.2,353.8 340.5,355.2 341.8,353.9 343,358.4 344.5,352.7 346.1,358 347.6,355.7 348.7,351.2 349.7,352.2 350.8,358.2 351.8,360.5 352.9,355.7 353.9,358.5 355,362.8 356,359.5 357,366 358,364.2 359,361.9 360,365.4 361,368.1 362,368.1 362.9,371.3 363.7,368.6 364.6,374.9 365.4,372.9 366.3,376.4 367.1,377.6 368,377.4 368.6,378.5 369.2,382.9 369.9,385.4 370.5,385.5 371.1,385.2 371.8,384.5 372.4,384.1 373,392.2 373.6,391.6 374.2,393.9 374.9,391.7 375.5,395.2 376.1,399.2 376.7,399.6 377.4,399.4 378,398.7 378.6,401 378.8,405.7 379,403.5 379.1,407.1 379.3,408 379.5,411.5 379.7,412.3 379.9,410.2 380,409.7 380.2,412.9 380.4,415.5 380.5,418 380.5,421 380.6,422.8 380.6,418.5 380.7,425.3 380.8,426.5 380.8,428.3 380.9,427.7 380.9,427.1 381,432.4 381,433.6 381.1,434.3 381.1,437.3 381.2,435 381.2,434.7 381.3,439.4 381.3,442.5 381.4,440 381.4,445.2 382.3,447.5 383.2,444 384.1,447.6 385,449.2 386.2,448.9 387.4,448.4 388.6,449.9 389.8,454.1 391,455.5 391.6,454.7 392.2,453.8 392.9,459.4 393.5,460.5 394.1,458.6 394.8,461.9 395.4,465 396,466.2 396.7,465.5 397.4,466.6 398.1,468.5 398.8,467.7 399.5,469.1 400.2,470.4 400.9,474.5 401.6,474.1 402.1,476.5 402.6,477 403.1,479 403.6,478.4 404,479.2 404.5,485.5 405,483.6 405.5,483.7 406,487.7 406.4,489.9 406.9,488.2 407.3,491.8 407.8,492 408.2,494.3 408.7,493.4 409.1,494.9 409.6,500.9 410,501.7 410.5,501.3 411,503.1 411.5,503.1 412,506.9 412.5,506.7 413,510.4 413.5,511 414,512.6 414.5,514.6 415,512.9 415.5,513.4 416,515.5 416.5,516.9 417,517.9 417.5,519.2 418.1,522.7 418.6,525.4 419.1,525.1 419.6,528.5 420.1,529.7 420.6,527.8 420.9,531.3 421.3,532 421.6,532.4 422,537.1 422.3,535.8 422.6,538.5 423,540.2 423.3,542.9 423.7,543.2 424,543.6 424.3,545.3 424.6,545.7 424.9,550.3 425.2,551.9 425.4,550.4 425.7,551.3 426,553.6 426.3,555.4 426.6,559 426.9,560.5 427.3,561.6 427.6,560 428,564.2 428.4,565.2 428.8,566.4 429.1,569 429.5,566.9 429.9,568.6 430.3,572.2 430.6,574.2 431,574.6 431.4,574.7 431.9,577.2 432.3,579.3 432.7,578.4 433.1,580.6 433.6,581.8 434,582.8 434.4,585.5 434.9,585.9 435.3,587.6 435.6,588.7 436,591.9 436.3,591.1 436.6,594.9 437,594.5 437.3,595.4 437.7,599.8 438,598.8 438.3,602.6 438.7,603.8 439,605.3 439.4,604.3 439.9,606.7 440.3,607.1 440.7,611.2 441.1,612.4 441.6,613.1 442,614 442.4,615.1 442.8,618.1 443.3,618.5 443.7,620.4 444.1,620.2 444.6,621.8 445,622.6 445.5,626 445.9,626.8 446.4,626.9 446.8,630.5 447.2,630 447.7,631.7 448.1,632.3 448.6,634 449,637 449.5,636.9 450,637.9 450.4,640.3 450.9,641.2 451.4,644.3 451.9,643.5 452.4,647.3 452.9,646.2 453.3,649.9 453.8,650.7 454.3,650.9 454.8,653 455.3,653.9 455.9,655.2 456.4,656.5 456.9,658.3 457.4,661.3 457.9,662.7 458.4,663.9 459,663.2 459.5,665.1 460,668 460.6,667.2 461.1,670.3 461.7,670.6 462.3,673.6 462.9,672.6 463.4,675.9 464,676.1 464.6,677 465.2,678.1 465.8,681.4 466.3,682 466.9,682.6 467.3,684.5 467.8,687 468.2,686.8 468.6,689 469,689.5 469.4,691 469.9,693.6 470.3,694.9 470.7,695.2 471.1,696.3 471.6,697.7 472,700.2 472.5,701.4 473,702.3 473.5,703.5 474,705.7 474.5,707.2 474.9,708.8 475.4,709.7 475.9,710.3 476.4,711.4 476.9,714.1 477.4,714.8 477.8,716.8 478.2,716.9 478.6,719.6 479,720.1 479.4,722.4 479.8,723.8 480.2,724.4 480.6,724.9 481,727.9 481.4,728.5 481.7,730.5 482.1,730.8 482.5,732 482.9,734.5 483.3,735 483.7,736 484.1,737.7 484.5,739.5 484.9,739.8 485.3,742 485.9,743.2 486.6,744.6 487.2,745.2 487.8,747.4 488.5,748.8 489.1,750.2 489.7,750.6 490.4,752.5 491,753.3 491.6,755.1 492.3,755.3 492.9,757.8 493.6,759.2 494.2,759.8 494.8,761.1 495.5,762.4 496.1,763.6 496.7,764.2 497.4,766.7 498,767 498.6,768.3 499.3,769.4 499.9,770.9 500.5,772.9 501.1,773.2 501.8,774.5 502.4,776.5 503,777.2 503.7,778.2 504.3,780.2 504.9,781.4 505.6,782.6 506.2,784.1 506.8,784.7 507.5,786.8 508.1,787.9 508.7,788.4 509.3,789.8 510,791.4 510.6,792.7 511.3,793.8 512,794.9 512.7,796.5 513.4,797.5 514.1,799.2 514.8,800.7 515.5,801.4 516.2,803.1 516.9,804.5 517.6,805.3 518.3,807.1 519,808.5 519.7,809.4 520.4,810.7 521.1,812.3 521.8,813.3 522.5,814.5 523.2,816.2 523.9,817.4 524.5,818.4 525.2,819.7 525.8,821.1 526.5,822.4 527.1,824.1 527.8,825.3 528.5,826.7 529.1,828 529.8,829.3 530.4,830.1 531.1,831.7 531.7,833.4 532.4,834.7 533,835.5 533.7,836.9 534.6,838.2 535.4,839.1 536.3,840.4 537.2,841.1 538.1,842.5 538.9,843.7 539.8,844.4 540.7,845.6 541.5,847.3 542.4,848.3 543.3,849.5 544.1,850.4 545,851.7 545.9,852.8 546.8,853.9 547.6,854.5 548.5,856 549.2,857 550,858.5 550.7,859.5 551.4,860.9 552.2,862.4 552.9,863.4 553.6,864.4 554.4,865.8 555.1,867 555.9,868.6 556.6,869.4 557.3,870.7 558.1,872.1 558.8,873 559.5,874.6 560.3,876.1 561,877 561.9,878 562.8,879.2 563.7,880.4 564.6,881.2 565.5,882.3 566.4,883.5 567.3,884.7 568.2,885.9 569.1,886.9 570,888 570.9,889 571.8,890.5 572.7,891.8 573.6,892.8 574.5,893.8 575.4,895 576.4,895.8 577.3,897.3 578.3,898.2 579.2,899.4 580.2,900.5 581.1,901.6 582.1,902.6 583,903.6 584,904.7 584.9,906 585.9,907 586.8,908.3 587.8,909 588.7,910.4 589.7,911.8 590.6,912.5 591.6,913.8 592.5,914.9 593.5,915.8 594.4,917.3 595.4,917.9 596.3,919.3 597.3,919.9 598.2,920.9 599.2,922.5 600.1,923.3 601.1,924 602,925.3 603,926.4 604,927.7 604.9,928.3 605.9,929.4 606.8,931 607.8,931.9 608.7,932.5 609.7,933.7 610.6,934.7 611.6,936 612.5,937 613.5,938.2 614.5,939.3 615.5,940.1 616.4,941.3 617.4,942.4 618.4,943.4 619.4,944.3 620.4,945.6 621.3,946.6 622.3,947.8 623.3,948.3 624.3,949.8 625.3,950.3 626.2,951.9 627.2,952.8 628.2,953.8 629.2,955.2 630.2,955.9 631.1,956.9 632.1,958.2 633.1,959.3 634.1,960.2 635.1,961.1 636,962.2 637,963.2 638,964.5 639,965.2 640,966.3 641,967.4 642,968.3 643,969.2 644,970.6 645,971.6 646,972.4 647,973.4 648,974.2 649,975.3 650,976.2 651,977.5 652,978.6 653,979.2 654,980.8 655,981.4 656,982.8 657,983.8 658,984.9 659,985.4 660.1,986.5 661.2,987.8 662.2,988.1 663.3,989 664.4,990.3 665.5,991.2 666.6,992.4 667.7,993.3 668.8,994 669.8,995.3 670.9,995.9 672,996.8 673.1,997.9 674.2,998.6 675.2,999.5 676.3,1000.6 677.4,1001.4 678.5,1002.7 679.6,1003.5 680.7,1004.3 681.8,1004.9 682.8,1006 683.9,1007 685,1008 686.1,1009 687.1,1010.2 688.2,1011.2 689.3,1011.9 690.3,1012.8 691.4,1013.9 692.5,1015.1 693.5,1015.6 694.6,1016.7 695.7,1017.9 696.7,1018.4 697.8,1019.5 698.9,1020.9 699.9,1021.8 701,1022.5 702.1,1023.2 703.1,1024.7 704.2,1025.5 705.3,1026.6 706.3,1027.7 707.4,1028.6 708.6,1029 709.8,1029.6 711.1,1030.5 712.3,1031.4 713.5,1032.2 714.7,1032.7 715.9,1033.5 717.2,1034.6 718.4,1035.3 719.6,1035.9 720.8,1037.1 722,1037.7 723.2,1038 724.5,1039 725.7,1040.1 726.9,1040.5 728.1,1041.5 729.3,1041.8 730.6,1042.8 731.8,1044 733,1044.6 734.2,1045.3 735.4,1045.7 736.7,1046.6 737.9,1047.4 739.1,1047.9 740.3,1048.9 741.5,1049.5 742.8,1050.6 744,1051 745.2,1051.6 746.4,1052.1 747.6,1052.9 748.9,1054 750.1,1054.3 751.3,1055 752.5,1055.7 753.7,1056.7 755,1057.6 756.2,1058.2 757.4,1059 758.6,1059.2 759.8,1059.9 761.1,1061.2 762.3,1061.6 763.5,1062.6 764.7,1063 765.9,1063.6 767.2,1064.4 768.4,1065 769.6,1066.3 770.9,1066.6 772.2,1067 773.5,1067.6 774.8,1068.1 776.1,1068.5 777.4,1069.6 778.7,1069.9 780,1070.8 781.3,1070.9 782.6,1071.6 783.9,1071.9 785.2,1072.3 786.5,1073.5 787.8,1074 789.1,1074.2 790.4,1075.1 791.7,1075.6 793,1075.8 794.3,1076.6 795.6,1077.4 796.9,1077.6 798.2,1078.5 799.5,1078.6 800.8,1079.2 802.1,1080 803.4,1080.2 804.7,1080.8 806,1081.8 807.3,1082 808.6,1082.7 809.9,1082.9 811.2,1083.3 812.5,1084 813.8,1084.4 815.1,1085.5 816.5,1085.5 817.8,1086.2 819.1,1086.4 820.4,1087.2 821.7,1087.6 823,1088.2 824.3,1088.4 825.6,1089 826.9,1090 828.2,1090.2 829.5,1090.6 830.8,1091.1 832.1,1091.7 833.5,1092.2 834.8,1092.6 836.1,1093.5 837.4,1093.8 838.7,1094.2 840,1095.1 841.3,1095.2 842.6,1095.8 843.9,1096.6 845.3,1096.6 846.6,1097.2 848,1097.9 849.3,1098.3 850.7,1098.2 852,1098.7 853.4,1099.4 854.7,1099.6 856.1,1100.4 857.4,1100.3 858.8,1101.2 860.1,1101.3 861.5,1101.5 862.8,1102.1 864.2,1102.3 865.5,1103.1 866.9,1103.2 868.2,1104 869.6,1104.2 870.9,1104.5 872.3,1104.8 873.6,1105.4 875,1105.6 876.3,1106.4 877.7,1106.3 879,1107 880.4,1107.3 881.8,1107.4 883.2,1108 884.6,1108 886,1108.5 887.4,1108.7 888.9,1108.8 890.3,1109.2 891.7,1109.2 893.1,1109.6 894.5,1110.3 895.9,1110.2 897.3,1110.8 898.7,1110.7 900.1,1111.3 901.5,1111.4 902.9,1111.8 904.3,1111.9 905.7,1112 907.2,1112.5 908.6,1112.7 910,1112.9 911.4,1113.6 912.8,1113.6 914.2,1113.9 915.6,1114.6 917,1114.7 918.4,1115 919.8,1115.1 921.2,1114.8 922.6,1115.1 924,1115.1 925.5,1115.8 926.9,1115.9 928.3,1115.9 929.7,1116.1 931.1,1116.5 932.5,1116.7 933.9,1116.5 935.3,1117.2 936.7,1117 938.1,1117.4 939.5,1117.2 940.9,1117.4 942.3,1118.2 943.8,1118.3 945.2,1118.4 946.6,1118.1 948,1118.2 949.4,1118.5 950.8,1118.8 952.2,1119 953.6,1119.2 955.1,1119 956.5,1119.4 957.9,1119.8 959.3,1119.5 960.8,1120.2 962.2,1120 963.6,1120.3 965.1,1120 966.5,1120.2 967.9,1120.6 969.4,1120.4 970.8,1120.2 972.2,1121 973.6,1121.1 975.1,1120.7 976.5,1120.6 977.9,1121.5 979.4,1121.4 980.8,1120.9 982.2,1121.2 983.6,1121.2 985.1,1122 986.5,1121.5 987.9,1122.3 989.4,1122.3 990.8,1121.7 992.2,1122.4 993.7,1122.3 995.1,1122.7 996.5,1122.9 997.9,1122.5 999.4,1122.4 1000.8,1123.3 1002.2,1122.9 1003.7,1123.5 1005.1,1123.3 1006.5,1123.4 1007.9,1123.6 1009.4,1123.5 1010.8,1123.3 1012.2,1123 1013.6,1123.7 1015.1,1123.5 1016.5,1123.7 1017.9,1124.2 1019.3,1123.4 1020.8,1124.2 1022.2,1123.5 1023.6,1124.3 1025.1,1124.4 1026.5,1123.9 1027.9,1124.3 1029.3,1124.8 1030.8,1124.5 1032.2,1124.5 1033.6,1124.2 1035,1124.1 1036.5,1124.5 1037.9,1124.6 1039.3,1124.5 1040.8,1124.7 1042.2,1124.5 1043.6,1125.3 1045,1125.3 1046.5,1124.9 1047.9,1124.9 1049.3,1125.3 1050.7,1125.3 1052.2,1126 1053.6,1125.3 1055,1125.3 1056.4,1126.1 1057.9,1125.3 1059.3,1125.9 1060.7,1125.6 1062.1,1126.2 1063.6,1125.9 1065,1126.2 1066.4,1125.5 1067.8,1126.2 1069.2,1126.1 1070.6,1126 1072.1,1126.4 1073.5,1126.5 1074.9,1125.6 1076.3,1125.8 1077.7,1126 1079.1,1125.8 1080.6,1125.6 1082,1125.9 1083.4,1125.8 1084.8,1126.5 1086.2,1126.2 1087.6,1125.8 1089.1,1126.1 1090.5,1126.3 1091.9,1126.2 1093.3,1126 1094.7,1125.9 1096.1,1125.8 1097.6,1127.2 1099,1126.9 1100.4,1126 1101.8,1126.9 1103.2,1127.3 1104.7,1126.7 1106.1,1126.1 1107.5,1126.7 1108.9,1126.6 1110.3,1126.3 1111.7,1126.8 1113.2,1126.1 1114.6,1127.4 1116,1127.1 1117.4,1127.1 1118.8,1127.5 1120.2,1127.2 1121.7,1126.6 1123.1,1126.6 1124.5,1126.5 1125.9,1126.4 1127.3,1127.5 1128.7,1127.6 1130.2,1126.8 1131.6,1126.7 1133,1127.4 1134.4,1127.7 1135.8,1127.8 1137.2,1126.8 1138.7,1127.7 1140.1,1127.8 1141.5,1127.7 1142.9,1127.1 1144.3,1126.9 1145.7,1127.9 1147.2,1127.2 1148.6,1127.3 1150,1127.6 1151.4,1127.3 1152.8,1128 1154.2,1127.2 1155.6,1126.9 1157.1,1127.7 1158.5,1127.8 1159.9,1128.1 1161.3,1128 1162.7,1128.3 1164.1,1128.4 1165.5,1127.8 1166.9,1127.8 1168.3,1127.3 1169.7,1127.6 1171.2,1128 1172.6,1127.3 1174,1128.2 1175.4,1127.5 1176.8,1127.9 1178.2,1128.7 1179.6,1127.4 1181,1127.4 1182.4,1128 1183.8,1127.6 1185.3,1128.4 1186.7,1127.4 1188.1,1128.6 1189.5,1128.7 1190.9,1128.6 1192.3,1128.1 1193.7,1127.9 1195.1,1128.5 1196.5,1128.3 1197.9,1128.2 1199.4,1128.1 1200.8,1128.3 1202.2,1128.6 1203.6,1128.9 1205,1129 1206.4,1128 1207.8,1128.2 1209.2,1128.4 1210.6,1128.6 1212,1128.4 1213.5,1128.2 1214.9,1128 1216.3,1128.4 1217.7,1128.6 1219.1,1129.4 1220.5,1129.3 1221.9,1129.3 1223.3,1129.5 1224.7,1129.5 1226.1,1129 1227.6,1129.3 1229,1128.2 1230.4,1129.1 1231.8,1129.1 1233.2,1128.6 1234.6,1129.1 1236,1129.6 1237.4,1129 1238.8,1129.2 1240.2,1128.8 1241.7,1128.9 1243.1,1129.7 1244.5,1128.4 1245.9,1128.7 1247.3,1129.4 1248.7,1129.1 1250.1,1128.6 1251.5,1129.5 1252.9,1129.1 1254.3,1129.4 1255.8,1129.2 1257.2,1129.4 1258.6,1129.5 1260,1129.2 1261.4,1128.9 1262.8,1129 1264.2,1130 1265.6,1129.6 1267,1129 1268.4,1130.1 1269.9,1129.2 1271.3,1129 1272.7,1129.7 1274.1,1129.3 1275.5,1129.7 1276.9,1129.8 1278.3,1129.3 1279.7,1129.8 1281.1,1129.2 1282.5,1129.8 1284,1129.9 1285.4,1129.2 1286.8,1129.7 1288.2,1129.3 1289.6,1129.8 1291,1130.5 1292.4,1130 1293.8,1130.3 1295.2,1130.4 1296.6,1129.5 1298.1,1130.8 1299.5,1130.4 1300.9,1129.5 1302.3,1130.6 1303.7,1130 1305.1,1129.7 1306.5,1130.9 1307.9,1130.3 1309.3,1130.7 1310.7,1129.7 1312.2,1130.7 1313.6,1129.7 1315,1130 1316.4,1130.2 1317.8,1129.7 1319.2,1130.6 1320.6,1130 1322,1130.1 1323.4,1130.8 1324.8,1130.3 1326.2,1131 1327.6,1130.7 1329.1,1131 1330.5,1130.6 1331.9,1131.1 1333.3,1131.1 1334.7,1130 1336.1,1130.9 1337.5,1130.3 1338.9,1131 1340.3,1130.9 1341.7,1131.1 1343.1,1130 1344.5,1130.4 1345.9,1131 1347.3,1131.3 1348.7,1131 1350.1,1130 1351.6,1130.8 1353,1130.1 1354.4,1130.8 1355.8,1131.2 1357.2,1130.1 1358.6,1131.4 1360,1131 1361.4,1130.4 1362.8,1130.3 1364.2,1130.7 1365.6,1131.3 1367,1130.9 1368.4,1130.2 1369.8,1130.1 1371.2,1130.3 1372.6,1131.3 1374.1,1130.4 1375.5,1131 1376.9,1130.6 1378.3,1131.2 1379.7,1130.7 1381.1,1130.4 1382.5,1131.5 1383.9,1131 1385.3,1131.2 1386.7,1131.4 1388.1,1131.7 1389.5,1130.3 1390.9,1130.8 1392.3,1130.5 1393.7,1131 1395.2,1131.6 1396.6,1131.5 1398,1130.4 1399.4,1130.6 1400.8,1131.6 1402.2,1131.4 1403.6,1131 1405,1131.1 1406.4,1130.6 1407.8,1131.7 1409.2,1131 1410.6,1131.7 1412,1131.4 1413.4,1130.5 1414.8,1130.9 1416.2,1130.8 1417.7,1131.8 1419.1,1131.4 1420.5,1130.6 1421.9,1130.8 1423.3,1131.1 1424.7,1131.2 1426.1,1131.4 1427.5,1131.1 1428.9,1131.1 1430.3,1130.6 1431.7,1131.5 1433.1,1131.1 1434.5,1130.6 1435.9,1131.3 1437.3,1132.1 1438.7,1130.7 1440.2,1130.9 1441.6,1131.7 1443,1131.1 1444.4,1131.1 1445.8,1131.5 1447.2,1131.1 1448.6,1131.6 1450,1131.5 1451.4,1132.2 1452.8,1132.3 1454.2,1130.8 1455.6,1131.6 1457,1132 1458.4,1132.2 1459.8,1132 1461.2,1131.8 1462.6,1131.8 1464,1131.4 1465.4,1131.3 1466.9,1132.1 1468.3,1132.3 1469.7,1132.4 1471.1,1132 1472.5,1131.4 1473.9,1132.1 1475.3,1132.1 1476.7,1131.8 1478.1,1132 1479.5,1131.6 1480.9,1131.9 1482.3,1131.7 1483.7,1131.1 1485.1,1131.6 1486.5,1131.6 1487.9,1132.6 1489.3,1131.8 1490.7,1131.7 1492.1,1131.5 1493.5,1131.5 1494.9,1131.7 1496.3,1131.4 1497.8,1131.2 1499.2,1132.6 1500.6,1131.9 1502,1131.9 1503.4,1132.1 1504.8,1131.7 1506.2,1131.5 1507.6,1131.4 1509,1131.8 1510.4,1131.8 1511.8,1132.4 1513.2,1132.2 1514.6,1132.8 1516,1131.9 1517.4,1132.8 1518.8,1132.3 1520.2,1131.5 1521.6,1131.7 1523,1132.3 1524.4,1133 1525.8,1132 1527.2,1132.7 1528.7,1132.1 1530.1,1132.8 1531.5,1131.6 1532.9,1132.3 1534.3,1132.9 1535.7,1132 1537.1,1132 1538.5,1131.6 1539.9,1131.8 1541.3,1132 1542.7,1132.7 1544.1,1132 1545.5,1132.3 1546.9,1132 1548.3,1132.6 1549.7,1133 1551.1,1132.7 1552.5,1132 1553.9,1132.9 1555.3,1133.2 1556.7,1132.7 1558.1,1131.9 1559.6,1133 1561,1133.2 1562.4,1132.3 1563.8,1132 1565.2,1132.1 1566.6,1132.7 1568,1133.2 1569.4,1132.9 1570.8,1133.3 1572.2,1132.2 1573.6,1132.4 1575,1132.7"/>
<polyline stroke="#00f" points="172,294.1 172,293.6 172.1,300.5 172.1,295.6 172.2,302.1 172.2,301.6 172.2,299.7 172.3,306 172.3,302.3 172.4,308 172.4,305.4 172.5,307.1 172.5,312.2 172.5,318 172.6,311.7 172.6,314.2 172.7,320.1 172.7,325 172.8,322.3 172.8,321.8 172.8,329.6 172.9,320.8 172.9,331.1 173,326.3 173,326.1 173.1,324.3 173.2,325 173.4,329.1 173.5,320.6 173.6,323.5 173.7,322.7 173.8,318.3 173.9,318.8 174.1,312 174.2,310.5 174.3,310.6 174.4,314.3 174.5,310.1 174.6,307.4 174.8,308.9 174.9,306 175,302.8 175.1,309.7 175.2,310 175.3,306.5 175.3,311.6 175.4,312.4 175.5,317.7 175.6,317.5 175.7,314.2 175.8,323.2 175.9,315.2 176,319.9 176,325 176.1,319.9 176.2,325 176.3,321.5 176.4,329.8 176.5,332.3 176.6,331.6 176.7,336.4 176.7,331.7 176.8,337.3 176.9,337.6 177,338.9 177.1,336.1 177.3,338.8 177.4,338.6 177.6,332 177.7,332.6 177.9,324.6 178,330.2 178.1,328.2 178.3,330.5 178.4,327.2 178.6,319.9 178.7,319.6 178.9,321.3 179,312.8 179.1,319 179.2,317.2 179.3,318 179.4,318.8 179.5,327.9 179.6,322.4 179.7,325.1 179.8,328 179.9,334.6 180,327.4 180.1,332.8 180.2,335.3 180.3,340.4 180.4,341.1 180.5,342.9 180.6,338 180.7,340.9 180.8,341.7 180.9,348.8 181,351 181.3,340.8 181.6,339.7 181.9,338.9 182.2,337.5 182.5,338.8 182.8,338.6 183.1,333.6 183.4,329.4 183.7,332.5 184,330.6 184.2,334.2 184.5,339.9 184.8,338.6 185,338.2 185.2,340.8 185.5,342.9 185.8,337.7 186,348.3 186.1,345.5 186.3,345.1 186.4,342.8 186.5,337 186.7,335.6 186.8,330.9 186.9,335.2 187.1,327.6 187.2,326.1 187.3,326.2 187.5,324.2 187.6,324.7 187.7,320.1 187.9,318.1 188,318.3 189,316.4 190,317.9 191,312.9 191.8,320.5 192.5,316.2 193.2,309.8 194,309.4 195,311.4 196,312.6 197,311 198,319.7 198.8,319.8 199.6,312.8 200.4,311.6 201.2,306 202,304.8 203,308.6 204,309 205,316.2 206,310.4 206.8,307.7 207.7,316.1 208.5,310.3 209.3,305 210.2,307.8 211,301.1 212.2,307.3 213.5,313 214.8,312.8 216,312 217,306.3 218,306.1 219,302.8 220,307.8 221.2,306.3 222.5,309.9 223.8,306.3 225,306.2 226.3,311.2 227.7,311.9 229,309.6 230.2,310.1 231.5,311.2 232.8,311.4 234,307.2 235.3,309.2 236.7,306.5 238,302.3 239,303.3 240,306.8 241,307.6 242,312.9 243,316.5 244.3,310.5 245.7,314.3 247,313.8 248,314.7 249,310.1 250,309.9 251,311.1 252,312.1 253.3,311.1 254.7,314.2 256,315.8 257,316.3 258,313.8 259,316.5 260,318.8 261,313.1 262.3,317.5 263.7,318.8 265,316.6 266.2,317.3 267.5,315.8 268.8,314 270,320.7 271.5,315.8 273,319.4 274.5,320.3 275.6,316.1 276.8,317.1 277.9,323 279,322 280.7,316.4 282.3,315.4 284,314.9 285,322.6 286,322.7 287,317.9 288,324.8 289.7,325.5 291.3,322 293,318.7 294,321.4 295,318.9 296,318.9 297,328 298,326.3 300,324.7 302,327.6 303.2,324.4 304.5,329.1 305.8,329.7 307,325.6 309,325.4 311,325.3 312.2,325.6 313.5,329.2 314.8,327.3 316,329.3 317.3,326.3 318.7,332 320,326.8 321.2,328.4 322.5,330.2 323.8,333.5 325,330.4 327,333.9 329,330 330.2,331 331.5,331.7 332.8,328.4 334,332.5 336,330 338,328 339.2,335.1 340.5,330.9 341.8,334 343,336.8 344.5,335.7 346.1,334.1 347.6,335.8 349.1,337.2 350.5,340.1 352,335.9 353,340.5 354,339 355,340.3 356,345.1 357.2,344.2 358.4,345.7 359.6,348.3 360.8,350.6 362,348.1 363.2,350.4 364.3,350.7 365.5,351.8 366.7,354.3 367.8,353.6 369,355.3 370,355.8 371,360.3 372,359.5 373,361.8 374,363.2 375,359.3 376,362.7 377,366.6 378,367.1 379,363.5 379.5,364.9 380,368.6 380.5,367.6 381,370.2 381.1,370.5 381.2,376 381.3,378.3 381.4,380.5 381.6,376.9 381.7,382.1 381.8,383.2 381.9,381.1 382,387.6 382.1,389.6 382.1,386 382.2,392.4 382.2,390.1 382.3,392.1 382.3,397 382.4,397.3 382.4,394.3 382.5,397.5 382.8,399.6 383,399.9 383.2,400.5 383.5,402.8 383.8,407 384,403.8 385,408.4 386,408.6 387,406.9 388,409.9 389,412.8 390,413.1 391,411.3 392.1,418 393.2,417.9 394.3,420 395.4,416 396.5,418 397.6,417.8 398.7,423 399.5,421.4 400.3,421.8 401.1,424.6 401.9,428.3 402.8,429 403.6,427.2 404.4,427.9 405.2,433 406,432.4 406.9,434.1 407.9,432.2 408.8,433.2 409.8,437.4 410.7,437.3 411.6,436.8 412.6,441.9 413.5,441.6 414.5,443.5 415.5,441.5 416.5,445.9 417.5,443.7 418.5,448.1 419.5,447.6 420.5,448.2 421.5,450.2 422.3,452.9 423.2,451.5 424,452.2 424.9,454.9 425.7,455 426.5,455.7 427.4,457.1 428.2,457.9 429.1,459.7 429.9,461.3 430.5,462.5 431.2,465.4 431.8,465 432.4,467 433.1,467.1 433.7,469 434.4,469.1 435,471.1 435.7,471.7 436.4,475.5 437,476.3 437.7,476.5 438.4,478.8 439,481.7 439.7,480.3 440.4,484 441,484.2 441.5,485.8 442.1,488.3 442.6,488.3 443.2,490 443.8,492 444.3,494.3 444.9,493.7 445.4,496.6 446,497.6 446.5,498.8 447,499.4 447.5,500.6 448,501.1 448.5,502.7 449,503.9 449.5,507.2 450,507.2 450.5,508.3 451,509.4 451.5,512.9 452,514.3 452.5,515.1 453,515.4 453.5,516.6 454,518.1 454.5,519.9 455,520.4 455.5,522.5 456,523.4 456.6,526.6 457.1,528 457.6,528.3 458.2,528.9 458.8,532.2 459.3,531.9 459.9,533.4 460.4,533.9 460.9,536.3 461.5,537.9 462.1,539.4 462.7,540 463.3,542.1 463.9,542.3 464.5,544.3 465,545.2 465.6,547.3 466.2,547.9 466.8,549.2 467.4,551.2 468,552.4 468.5,554.5 469.1,555.7 469.6,557.5 470.2,558.6 470.7,560.1 471.3,561.7 471.8,562 472.4,563.2 472.9,565.9 473.5,565.5 474,568 474.6,569.1 475.2,569.3 475.8,572.2 476.4,573.7 477,574.5 477.6,576 478.2,577.5 478.8,577.6 479.4,579.7 480,581 480.7,583 481.4,584.3 482,585.7 482.7,586.7 483.4,588.6 484.1,589.6 484.8,591 485.4,591.6 486.1,592.7 486.8,594.2 487.4,596 487.9,596.9 488.5,599.5 489.1,600.4 489.6,601.9 490.2,603.3 490.7,604.7 491.3,605.8 491.9,606.5 492.4,609.1 493,610.4 493.5,611.4 494.1,612.8 494.6,614.3 495.1,614.9 495.7,617.2 496.2,617.9 496.7,619 497.3,620.6 497.8,622.6 498.3,623.3 498.9,625.3 499.4,627 500.1,627.7 500.7,628.8 501.4,630.2 502,631.7 502.7,633 503.4,634.1 504,635.4 504.7,636 505.3,637.4 506,638.7 506.6,640.5 507.2,641.3 507.8,642.9 508.4,643.6 509,644.9 509.6,646.4 510.2,648.1 510.8,649.3 511.4,650.6 512,651.5 512.5,653 512.9,654.3 513.4,655.7 513.8,656.7 514.2,658.7 514.7,659.4 515.1,661.4 515.6,662.7 516,663.3 516.5,665 517.1,666.5 517.7,667.9 518.3,668.8 518.9,669.9 519.5,671.2 520.2,672.9 520.8,673.7 521.4,675.2 522,676.2 522.6,677.7 523.2,679.3 523.7,680.1 524.3,682 524.8,683.1 525.3,684.7 525.8,686 526.4,687 526.9,688.8 527.4,689.9 527.9,690.9 528.5,692.3 529,694 529.6,695.3 530.1,696.4 530.7,697.6 531.3,699 531.8,700.3 532.4,701.9 533,702.6 533.6,704.5 534.1,705.8 534.7,706.6 535.3,708.4 535.8,709.6 536.4,711 537.1,711.8 537.8,713.1 538.5,714.3 539.3,716 540,716.9 540.7,718 541.4,719.3 542.1,720.4 542.8,721.5 543.5,722.8 544.3,724.5 545,725.4 545.7,727.1 546.4,727.8 547,729.1 547.7,730.5 548.3,731.6 548.9,732.9 549.6,734.6 550.2,735.8 550.8,737 551.5,738.1 552.1,739.6 552.7,740.9 553.4,741.9 554,743.2 554.7,744 555.3,745.8 555.9,746.8 556.6,748.3 557.2,749.5 557.8,750.5 558.5,751.6 559.1,753.4 559.7,754.1 560.4,755.6 561,756.8 561.7,758 562.4,759.6 563.1,761.1 563.8,761.9 564.6,763.4 565.3,764.5 566,765.9 566.7,767.1 567.4,768.2 568.1,769.5 568.8,770.8 569.5,772.6 570.2,773.6 571,774.7 571.7,776.4 572.4,777.8 573.1,778.7 573.8,779.7 574.6,781 575.3,782.2 576.1,783.6 576.9,784.6 577.7,785.9 578.4,787.2 579.2,788.6 580,790 580.8,791.2 581.5,792.1 582.3,793.4 583.1,794.7 583.9,795.8 584.6,797 585.4,798 586.2,799.4 587,801.1 587.7,801.7 588.5,803.2 589.3,804.5 590,805.9 590.8,806.7 591.6,807.9 592.4,809.1 593.1,810.5 593.9,811.7 594.7,813.3 595.5,814.4 596.2,815.7 597,816.3 597.8,817.5 598.6,819.2 599.3,820.6 600.1,821.5 600.9,822.8 601.7,823.6 602.4,825.1 603.2,826.7 604,827.8 604.7,829.1 605.5,830.4 606.3,831.1 607,832.2 607.8,833.4 608.5,834.9 609.3,836.2 610.1,837.6 610.8,838.6 611.6,839.8 612.4,841.1 613.1,842.1 613.9,843.4 614.7,844.2 615.4,845.9 616.2,846.8 616.9,848.5 617.7,849.5 618.5,850.4 619.2,851.5 620,852.8 620.8,854.3 621.6,855.5 622.5,856.2 623.3,857.4 624.1,858.9 624.9,860.1 625.8,861.1 626.6,862.1 627.5,863.6 628.4,864.3 629.2,865.7 630.1,867 630.9,868.5 631.8,869.4 632.7,870.8 633.5,871.6 634.4,872.6 635.2,873.8 636.1,875.5 637,876.5 637.8,877.4 638.7,878.3 639.6,879.8 640.4,881.1 641.3,882.1 642.1,883.2 643,884.6 643.9,886 644.7,886.6 645.6,887.7 646.4,889 647.3,890.2 648.1,891.5 649,892.3 649.8,893.8 650.7,894.9 651.5,895.9 652.4,896.8 653.2,898.5 654,899.1 654.9,900.6 655.7,901.3 656.6,902.5 657.4,904 658.3,904.8 659.1,906.4 659.9,907.2 660.8,908.1 661.6,909.2 662.5,910.5 663.3,911.8 664.2,913.1 665,913.7 665.9,915 666.7,916 667.5,917.7 668.4,918.2 669.2,919.3 670.1,920.4 670.9,921.7 671.8,923.2 672.6,924.3 673.5,925.4 674.3,926.7 675.1,927.7 676,928.4 676.8,929.5 677.7,931.1 678.5,932.1 679.4,932.7 680.2,934.3 681,935.2 681.9,936.3 682.7,937.4 683.6,938.4 684.4,939.5 685.3,940.8 686.1,941.9 687,943.5 687.8,944 688.8,945.7 689.9,946.2 690.9,947.3 692,948.6 693,949.7 694.1,950.4 695.1,951.2 696.2,952.5 697.2,953.5 698.3,954.9 699.4,955.4 700.4,956.5 701.5,957.9 702.5,958.4 703.5,959.7 704.5,961 705.4,962 706.4,962.6 707.4,963.6 708.4,964.7 709.3,966.3 710.3,966.9 711.3,968.3 712.3,969.5 713.3,970.1 714.2,971.1 715.2,972.6 716.2,973.5 717.2,974.3 718.2,975.6 719.1,976.4 720.1,977.4 721.1,978.3 722.1,979.8 723,981 724,981.8 725,983.1 726.1,983.4 727.2,984.4 728.4,985.4 729.5,986.7 730.6,987.5 731.7,988 732.8,988.8 734,989.8 735.1,990.8 736.2,991.9 737.3,992.3 738.4,993.6 739.6,994.5 740.7,995.4 741.8,996.3 742.9,997 744,997.7 745.2,998.6 746.3,999.5 747.4,1000.7 748.7,1000.9 749.9,1001.7 751.2,1002.8 752.4,1003.1 753.7,1003.7 755,1004.4 756.2,1005.4 757.5,1006 758.7,1007.1 760,1007.8 761.1,1008.7 762.3,1009 763.4,1009.7 764.6,1010.6 765.7,1011.7 766.8,1012.7 768,1013.4 769.1,1014.1 770.2,1015.1 771.4,1016 772.5,1016.9 773.7,1017.8 774.8,1018.7 776,1019.4 777.2,1019.9 778.4,1021.2 779.5,1021.6 780.7,1022.6 781.9,1023.3 783.1,1024.3 784.3,1024.8 785.5,1025.6 786.6,1026.4 787.8,1027.2 789,1028.5 790.2,1029.1 791.4,1029.7 792.6,1030.6 793.7,1031.8 794.9,1032.3 796.1,1032.9 797.3,1034.1 798.6,1034.6 799.8,1035.5 801.1,1035.5 802.4,1036.3 803.7,1037.2 804.9,1037.8 806.2,1038.5 807.5,1038.5 808.8,1039.3 810,1039.7 811.3,1040.4 812.6,1041.6 813.8,1041.9 815.1,1042.8 816.4,1043 817.7,1043.9 818.9,1044.3 820.2,1044.7 821.5,1045.7 822.8,1046.4 824,1046.5 825.3,1047.4 826.6,1048 827.9,1048.4 829.1,1049.1 830.4,1049.5 831.8,1050 833.1,1050.5 834.5,1051.2 835.8,1051.7 837.2,1051.9 838.5,1052.2 839.9,1052.8 841.2,1053.5 842.6,1053.6 844,1054.2 845.3,1054.6 846.7,1055.4 848,1055.7 849.4,1055.8 850.7,1056.3 852.1,1057 853.4,1057.5 854.8,1058 856.2,1058.1 857.5,1058.6 858.9,1059.4 860.2,1059.7 861.6,1060 862.9,1060.5 864.3,1061.4 865.6,1061.4 867,1062 868.4,1062.2 869.8,1062.6 871.2,1063.2 872.6,1063.7 874,1063.5 875.4,1063.7 876.8,1064.4 878.2,1064.4 879.6,1064.6 881,1065.6 882.4,1065.5 883.8,1066.1 885.2,1066.2 886.7,1066.8 888.1,1066.9 889.5,1067 890.9,1067.2 892.3,1067.9 893.7,1068.3 895.1,1068.8 896.5,1068.6 897.9,1069.3 899.3,1069.4 900.7,1069.8 902.1,1069.9 903.5,1070.3 904.9,1070.7 906.3,1071.2 907.7,1070.7 909.1,1071.2 910.5,1071.6 911.8,1071.9 913.2,1071.5 914.6,1071.6 916,1072.4 917.4,1072.6 918.8,1072.4 920.2,1072.3 921.6,1073.1 923,1072.9 924.4,1073.4 925.8,1073.4 927.2,1073.7 928.5,1073.4 929.9,1074 931.3,1073.8 932.7,1074.1 934.1,1074.6 935.5,1074.8 936.9,1074.4 938.3,1074.6 939.7,1074.9 941.1,1075.2 942.5,1075.3 943.9,1075.2 945.2,1075.5 946.6,1076.1 948,1076.4 949.4,1075.9 950.8,1076.5 952.2,1076.8 953.6,1076.3 955.1,1077.1 956.5,1076.6 957.9,1077.1 959.3,1077.2 960.8,1077.3 962.2,1077.2 963.6,1077.4 965.1,1077.6 966.5,1077.6 967.9,1077.9 969.4,1077.8 970.8,1077.9 972.2,1077.6 973.6,1078.3 975.1,1078.3 976.5,1078.2 977.9,1078.8 979.4,1078.9 980.8,1078.7 982.2,1078.5 983.6,1078.9 985.1,1078.7 986.5,1078.8 987.9,1079.2 989.4,1079 990.8,1079.4 992.2,1079.6 993.7,1079.2 995.1,1079.9 996.5,1079.5 997.9,1080.2 999.4,1080.4 1000.8,1080.2 1002.2,1079.8 1003.7,1080.3 1005.1,1080.2 1006.5,1080.8 1007.9,1080 1009.4,1080.8 1010.8,1080.9 1012.2,1080.7 1013.6,1080.8 1015.1,1080.2 1016.5,1081.1 1017.9,1080.6 1019.3,1081.1 1020.8,1081.1 1022.2,1080.3 1023.6,1081 1025.1,1081.2 1026.5,1080.3 1027.9,1080.6 1029.3,1081.1 1030.8,1080.5 1032.2,1081.3 1033.6,1080.7 1035,1081.3 1036.5,1080.6 1037.9,1081 1039.3,1081.5 1040.8,1080.7 1042.2,1080.8 1043.6,1081.2 1045,1081 1046.5,1080.7 1047.9,1080.9 1049.3,1080.9 1050.7,1081.8 1052.2,1081.6 1053.6,1081.9 1055,1081 1056.4,1081.8 1057.9,1081 1059.3,1081.5 1060.7,1081.7 1062.1,1081.3 1063.5,1082 1064.9,1081.6 1066.4,1081.6 1067.8,1082 1069.2,1081 1070.6,1082.2 1072,1081.7 1073.4,1081.4 1074.8,1081.9 1076.2,1081.2 1077.7,1082.2 1079.1,1081.6 1080.5,1081.4 1081.9,1081.9 1083.3,1081.5 1084.7,1081.1 1086.1,1081.9 1087.5,1080.9 1088.9,1082 1090.4,1081.2 1091.8,1081.7 1093.2,1082.2 1094.6,1081.7 1096,1081.8 1097.4,1081.3 1098.8,1080.9 1100.2,1080.9 1101.6,1081.1 1103.1,1081.7 1104.5,1081.5 1105.9,1081.6 1107.3,1082.1 1108.7,1081.1 1110.1,1081.2 1111.5,1081.8 1112.9,1080.9 1114.4,1080.9 1115.8,1081.4 1117.2,1081 1118.6,1081.4 1120,1081.2 1121.4,1081.7 1122.8,1081.7 1124.2,1081.2 1125.6,1081.8 1127,1081.6 1128.4,1081.1 1129.8,1082.3 1131.2,1081.3 1132.6,1081.2 1134,1081.1 1135.4,1081.9 1136.8,1082.3 1138.2,1082.1 1139.6,1081.6 1141.1,1081.4 1142.5,1081.1 1143.9,1082 1145.3,1081.9 1146.7,1081.6 1148.1,1082 1149.5,1081.7 1150.9,1082.5 1152.3,1082.2 1153.7,1081.5 1155.1,1082.4 1156.5,1081.2 1157.9,1081.9 1159.3,1081.8 1160.7,1081.5 1162.1,1081.3 1163.5,1082.3 1164.9,1081.2 1166.3,1082 1167.7,1082.6 1169.1,1081.5 1170.5,1081.5 1171.9,1082.1 1173.3,1082 1174.7,1082.2 1176.1,1082.5 1177.5,1081.6 1178.9,1081.8 1180.4,1081.8 1181.8,1081.4 1183.2,1082.6 1184.6,1082.5 1186,1082.4 1187.4,1081.4 1188.8,1082.6 1190.2,1082.5 1191.6,1082.1 1193,1082.5 1194.4,1082.1 1195.8,1081.8 1197.2,1081.6 1198.6,1081.8 1200,1081.5 1201.4,1082 1202.8,1082.6 1204.2,1082.5 1205.6,1082.7 1207,1082.5 1208.4,1081.9 1209.8,1082.3 1211.2,1082.2 1212.6,1082.7 1214,1082.3 1215.4,1082 1216.8,1082.5 1218.2,1083 1219.6,1081.9 1221,1082.9 1222.4,1081.6 1223.8,1082 1225.2,1082 1226.6,1082.7 1228,1083 1229.5,1082.7 1230.9,1082.1 1232.3,1082.9 1233.7,1082.2 1235.1,1082 1236.5,1083 1237.9,1082.6 1239.3,1082.7 1240.7,1082.7 1242.1,1083.1 1243.5,1082.4 1244.9,1083 1246.3,1082.8 1247.7,1083 1249.1,1082.4 1250.5,1082.8 1251.9,1082.6 1253.3,1082.2 1254.7,1082.1 1256.1,1082.7 1257.5,1081.9 1258.9,1083.2 1260.3,1082 1261.7,1081.9 1263.1,1082 1264.5,1083.2 1265.9,1082.4 1267.3,1082.1 1268.7,1081.9 1270.1,1081.9 1271.5,1082.9 1272.9,1082.8 1274.3,1082.9 1275.7,1083 1277.1,1082 1278.5,1082.8 1279.9,1082.5 1281.3,1083.2 1282.7,1083.2 1284.1,1083.3 1285.5,1082.1 1286.9,1083.3 1288.3,1083.3 1289.8,1083.4 1291.2,1082.2 1292.6,1082.3 1294,1082.2 1295.4,1082.1 1296.8,1083.3 1298.2,1083.2 1299.6,1083 1301,1083.3 1302.4,1083 1303.8,1082.5 1305.2,1082.2 1306.6,1082.2 1308,1083.2 1309.4,1082.4 1310.8,1082.6 1312.2,1082.8 1313.6,1082.2 1315,1082.5 1316.4,1082.6 1317.8,1083.2 1319.2,1082.7 1320.6,1082.6 1322,1083.6 1323.4,1082.9 1324.8,1083.5 1326.2,1083.1 1327.6,1082.2 1329.1,1082.8 1330.5,1082.9 1331.9,1083.4 1333.3,1082.7 1334.7,1083.3 1336.1,1083 1337.5,1082.6 1338.9,1083.5 1340.3,1082.4 1341.7,1083.5 1343.1,1082.5 1344.5,1082.3 1345.9,1082.6 1347.3,1083.4 1348.7,1083.8 1350.1,1082.3 1351.6,1083 1353,1083 1354.4,1083.5 1355.8,1082.6 1357.2,1083.1 1358.6,1082.9 1360,1083.6 1361.4,1082.7 1362.8,1083.8 1364.2,1082.8 1365.6,1082.7 1367,1083.4 1368.4,1083.1 1369.8,1082.5 1371.2,1083.3 1372.6,1082.5 1374.1,1083.6 1375.5,1083.5 1376.9,1083.6 1378.3,1083.4 1379.7,1083 1381.1,1083 1382.5,1083 1383.9,1083.8 1385.3,1082.6 1386.7,1083.8 1388.1,1082.5 1389.5,1082.8 1390.9,1082.9 1392.3,1083.8 1393.7,1083.2 1395.2,1083.1 1396.6,1083.8 1398,1082.9 1399.4,1083.2 1400.8,1083.3 1402.2,1083.7 1403.6,1083.7 1405,1083.5 1406.4,1083.1 1407.8,1083 1409.2,1082.8 1410.6,1083.8 1412,1083.6 1413.4,1083.7 1414.8,1082.8 1416.2,1083.3 1417.7,1083.8 1419.1,1083.5 1420.5,1082.8 1421.9,1083.3 1423.3,1084 1424.7,1083 1426.1,1082.9 1427.5,1083.1 1428.9,1083.7 1430.3,1083.9 1431.7,1082.9 1433.1,1082.9 1434.5,1083 1435.9,1083.2 1437.3,1083.5 1438.7,1082.9 1440.2,1083.2 1441.6,1083 1443,1084.2 1444.4,1083.8 1445.8,1082.9 1447.2,1084.2 1448.6,1082.9 1450,1083.3 1451.4,1084.3 1452.8,1084 1454.2,1083.9 1455.6,1083.4 1457,1083.1 1458.4,1083.8 1459.8,1082.9 1461.2,1083.1 1462.6,1083.4 1464,1082.9 1465.4,1083.4 1466.9,1084 1468.3,1083.9 1469.7,1083.6 1471.1,1083.8 1472.5,1083.6 1473.9,1083.1 1475.3,1083.8 1476.7,1083.5 1478.1,1084 1479.5,1084.3 1480.9,1083.6 1482.3,1083.8 1483.7,1084.1 1485.1,1083.6 1486.5,1083.3 1487.9,1084.1 1489.3,1084.3 1490.7,1084.2 1492.1,1084 1493.5,1084.3 1494.9,1084 1496.3,1084 1497.8,1083.7 1499.2,1083.5 1500.6,1084 1502,1083.2 1503.4,1083.7 1504.8,1084.2 1506.2,1084.1 1507.6,1084 1509,1083.4 1510.4,1083.7 1511.8,1083.8 1513.2,1084 1514.6,1083.7 1516,1084.1 1517.4,1084.6 1518.8,1083.4 1520.2,1084.1 1521.6,1084.3 1523,1083.7 1524.4,1083.9 1525.8,1084.7 1527.2,1083.2 1528.7,1084 1530.1,1083.4 1531.5,1084.4 1532.9,1084.7 1534.3,1084 1535.7,1083.4 1537.1,1084.1 1538.5,1084.1 1539.9,1084.3 1541.3,1084 1542.7,1084.2 1544.1,1084.5 1545.5,1084.1 1546.9,1083.9 1548.3,1084.8 1549.7,1083.6 1551.1,1084.4 1552.5,1083.9 1553.9,1084.5 1555.3,1083.5 1556.7,1084.9 1558.1,1083.9 1559.6,1083.4 1561,1083.8 1562.4,1084 1563.8,1083.4 1565.2,1084 1566.6,1084 1568,1084.5 1569.4,1083.9 1570.8,1083.8 1572.2,1083.7 1573.6,1084.6 1575,1084.2"/>
</g>
<rect x="678.8" y="109.2" width="24.7" height="22" fill="none" stroke="#00f" stroke-width="2.6"/>
<path d="M678.8 174 V196.2 H703.5 V174" fill="none" stroke="#f00" stroke-width="2.6"/>
<path d="M678.8 174 H703.5" fill="none" stroke="#fde" stroke-width="2.6"/>
<line x1="202" y1="1014.9" x2="299" y2="1014.9" stroke="#f00" stroke-width="7.3" stroke-linecap="round"/>
<line x1="207" y1="1094.9" x2="302" y2="1094.9" stroke="#00f" stroke-width="7.3" stroke-linecap="round"/>
<text x="170.5" y="1260.7" font-family="Liberation Sans, Arial, sans-serif" font-weight="bold" font-size="58.5" fill="#000" text-anchor="middle">200</text>
<text x="404" y="1260.7" font-family="Liberation Sans, Arial, sans-serif" font-weight="bold" font-size="58.5" fill="#000" text-anchor="middle">300</text>
<text x="638" y="1260.7" font-family="Liberation Sans, Arial, sans-serif" font-weight="bold" font-size="58.5" fill="#000" text-anchor="middle">400</text>
<text x="871.5" y="1260.7" font-family="Liberation Sans, Arial, sans-serif" font-weight="bold" font-size="58.5" fill="#000" text-anchor="middle">500</text>
<text x="1105" y="1260.7" font-family="Liberation Sans, Arial, sans-serif" font-weight="bold" font-size="58.5" fill="#000" text-anchor="middle">600</text>
<text x="1338.5" y="1260.7" font-family="Liberation Sans, Arial, sans-serif" font-weight="bold" font-size="58.5" fill="#000" text-anchor="middle">700</text>
<text x="1572" y="1260.7" font-family="Liberation Sans, Arial, sans-serif" font-weight="bold" font-size="58.5" fill="#000" text-anchor="middle">800</text>
<text transform="translate(873 1371) scale(1.0150 1)" font-family="Liberation Sans, Arial, sans-serif" font-weight="bold" font-size="69" fill="#000" text-anchor="middle">Wavelength(nm)</text>
<text transform="translate(98 839.5) rotate(-90) scale(1.009 1)" font-family="Liberation Sans, Arial, sans-serif" font-weight="bold" font-size="69" fill="#000">Reflectance (a.u.)</text>
<text transform="translate(632 803) scale(1.03 1.085)" font-family="Liberation Sans, Arial, sans-serif" font-weight="bold" font-size="47" fill="#000" text-anchor="middle">2</text>
<text transform="translate(983.5 803) scale(1.03 1.085)" font-family="Liberation Sans, Arial, sans-serif" font-weight="bold" font-size="47" fill="#000" text-anchor="middle">3</text>
<text transform="translate(1335 803) scale(1.03 1.085)" font-family="Liberation Sans, Arial, sans-serif" font-weight="bold" font-size="47" fill="#000" text-anchor="middle">4</text>
<text transform="translate(1141.4 873.3) scale(1.1177 1)" font-family="Liberation Sans, Arial, sans-serif" font-weight="bold" font-size="58" fill="#000" text-anchor="middle">Energy(eV)</text>
<text transform="translate(723.8 127.8) scale(1.1260 1)" font-family="Liberation Sans, Arial, sans-serif" font-weight="bold" font-size="41.5" fill="#000">N-incorporated SnO<tspan font-size="44" dy="9.7">2</tspan></text>
<text transform="translate(723.8 192.3) scale(1.1230 1)" font-family="Liberation Sans, Arial, sans-serif" font-weight="bold" font-size="41.5" fill="#000">Pure SnO<tspan font-size="44" dy="9.7">2</tspan></text>
<text transform="translate(324.9 1033) scale(1.0474 1)" font-family="Liberation Sans, Arial, sans-serif" font-weight="bold" font-size="42" fill="#000">Pure SnO<tspan font-size="44" dy="10">2</tspan></text>
<text transform="translate(319.7 1107.8) scale(1.0458 1)" font-family="Liberation Sans, Arial, sans-serif" font-weight="bold" font-size="42" fill="#000">N-incorporated SnO<tspan font-size="44" dy="10">2</tspan></text>
<text transform="translate(847.5 500.5) scale(0.99 1.055)" font-family="Liberation Sans, Arial, sans-serif" font-weight="bold" font-size="47" fill="#00f">3.1</text>
<text transform="translate(1035.2 438.4) scale(1.0770 1)" font-family="Liberation Sans, Arial, sans-serif" font-weight="bold" font-size="46" fill="#f00" >3.6</text>
<text transform="translate(589.7 456.4) rotate(-90) scale(1.066 1)" font-family="Liberation Serif, serif" font-size="60" fill="#000">(α<tspan font-family="Liberation Sans, Arial, sans-serif" font-weight="bold">h</tspan>ν)<tspan font-family="Liberation Sans, Arial, sans-serif" font-size="34" dy="-33">2</tspan></text>
</svg>
</body></html>
